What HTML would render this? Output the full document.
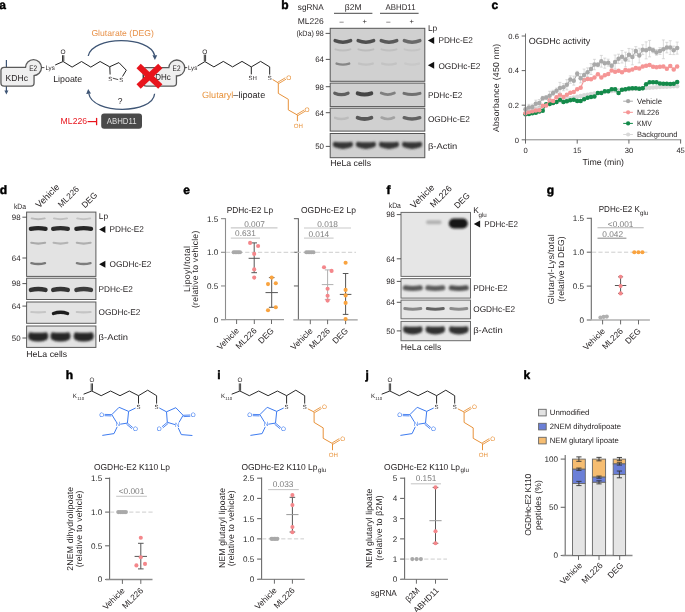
<!DOCTYPE html>
<html><head><meta charset="utf-8"><style>
html,body{margin:0;padding:0;background:#fff;}
body{width:685px;height:612px;overflow:hidden;}
svg{display:block;will-change:transform;}
text{font-family:"Liberation Sans", sans-serif;text-rendering:geometricPrecision;}
</style></head><body>
<svg width="685" height="612" viewBox="0 0 685 612" font-family="Liberation Sans, sans-serif" fill="#231f20">
<defs>
<filter id="bl" filterUnits="userSpaceOnUse" x="0" y="0" width="685" height="612"><feGaussianBlur stdDeviation="0.75"/></filter>
<filter id="bl3" filterUnits="userSpaceOnUse" x="0" y="0" width="685" height="612"><feGaussianBlur stdDeviation="0.95"/></filter>
<filter id="bl2" filterUnits="userSpaceOnUse" x="0" y="0" width="685" height="612"><feGaussianBlur stdDeviation="1.3"/></filter>
</defs>
<rect width="685" height="612" fill="#fff"/>
<text font-size="12" fill="#000" font-weight="bold" transform="translate(-0.80 9.00)" stroke="#000" stroke-width="0.45">a</text>
<text font-size="12" fill="#000" font-weight="bold" transform="translate(281.30 9.20)" stroke="#000" stroke-width="0.45">b</text>
<text font-size="12" fill="#000" font-weight="bold" transform="translate(491.60 8.90)" stroke="#000" stroke-width="0.45">c</text>
<text font-size="12" fill="#000" font-weight="bold" transform="translate(-0.30 194.00)" stroke="#000" stroke-width="0.45">d</text>
<text font-size="12" fill="#000" font-weight="bold" transform="translate(183.30 194.20)" stroke="#000" stroke-width="0.45">e</text>
<text font-size="12" fill="#000" font-weight="bold" transform="translate(386.40 193.90)" stroke="#000" stroke-width="0.45">f</text>
<text font-size="12" fill="#000" font-weight="bold" transform="translate(546.80 194.00)" stroke="#000" stroke-width="0.45">g</text>
<text font-size="12" fill="#000" font-weight="bold" transform="translate(65.80 379.20)" stroke="#000" stroke-width="0.45">h</text>
<text font-size="12" fill="#000" font-weight="bold" transform="translate(217.20 379.00)" stroke="#000" stroke-width="0.45">i</text>
<text font-size="12" fill="#000" font-weight="bold" transform="translate(365.60 379.00)" stroke="#000" stroke-width="0.45">j</text>
<text font-size="12" fill="#000" font-weight="bold" transform="translate(523.60 379.00)" stroke="#000" stroke-width="0.45">k</text>
<line x1="6.40" y1="60.00" x2="6.40" y2="68.00" stroke="#3e5575" stroke-width="1.2"/>
<line x1="6.40" y1="85.00" x2="6.40" y2="91.50" stroke="#3e5575" stroke-width="1.2"/>
<path d="M4.4,90.5 L8.4,90.5 L6.4,94.5 Z" fill="#3e5575"/>
<g stroke="#5a5a5a" stroke-width="2.6" fill="#efefef"><rect x="1.6" y="68.1" width="31.8" height="17.3" rx="2.5"/><circle cx="33.5" cy="67.6" r="7.35"/></g>
<g fill="#efefef"><rect x="1.6" y="68.1" width="31.8" height="17.3" rx="2.5"/><circle cx="33.5" cy="67.6" r="7.35"/></g>
<text font-size="8.6" transform="translate(5.60 80.60) scale(0.9974 1)">KDHc</text>
<text font-size="8" transform="translate(29.20 70.80) scale(0.8073 1)">E2</text>
<line x1="41.80" y1="67.60" x2="44.40" y2="67.60" stroke="#231f20" stroke-width="0.8"/>
<text font-size="6.4" transform="translate(45.40 69.90) scale(0.9669 1)">Lys</text>
<polyline points="55.20,65.00 63.10,61.50 72.10,67.10 81.50,61.50 90.80,67.10 100.10,61.50 109.60,66.80" fill="none" stroke="#222" stroke-width="1" stroke-linejoin="miter"/>
<line x1="62.50" y1="61.20" x2="62.50" y2="55.20" stroke="#222" stroke-width="0.9"/>
<line x1="63.80" y1="61.20" x2="63.80" y2="55.20" stroke="#222" stroke-width="0.9"/>
<text font-size="6.5" text-anchor="middle" transform="translate(63.10 54.30)">O</text>
<polyline points="109.60,66.80 118.90,62.60 126.30,70.20 122.50,76.50" fill="none" stroke="#222" stroke-width="1" stroke-linejoin="miter"/>
<line x1="109.80" y1="66.80" x2="110.10" y2="74.50" stroke="#222" stroke-width="1"/>
<line x1="112.80" y1="78.20" x2="118.20" y2="79.60" stroke="#222" stroke-width="0.8"/>
<text font-size="6.0" text-anchor="middle" transform="translate(110.20 80.60)">S</text>
<text font-size="6.0" text-anchor="middle" transform="translate(121.20 82.40)">S</text>
<text font-size="8.8" transform="translate(53.20 81.80) scale(1.0044 1)">Lipoate</text>
<path d="M88.2,56 C92,35.7 150,35.7 154.7,55.5" fill="none" stroke="#3e5575" stroke-width="1.3"/>
<path d="M152.4,55.2 L157.2,55.2 L154.9,60 Z" fill="#3e5575"/>
<path d="M154.6,93.8 C153,114.5 92,114.5 88.8,93.5" fill="none" stroke="#3e5575" stroke-width="1.3"/>
<path d="M86.2,94 L91,93.4 L88.2,89 Z" fill="#3e5575"/>
<text font-size="8.6" fill="#e8924a" transform="translate(91.40 35.70) scale(1.0044 1)">Glutarate (DEG)</text>
<text font-size="8.5" text-anchor="middle" transform="translate(120.20 104.20)">?</text>
<g stroke="#5a5a5a" stroke-width="2.6" fill="#efefef"><rect x="143.8" y="68.2" width="32.0" height="17.3" rx="2.5"/><circle cx="176.8" cy="68" r="7.35"/></g>
<g fill="#efefef"><rect x="143.8" y="68.2" width="32.0" height="17.3" rx="2.5"/><circle cx="176.8" cy="68" r="7.35"/></g>
<text font-size="8.6" text-anchor="end" transform="translate(170.80 80.30) scale(0.9302 1)">OGDHc</text>
<text font-size="8" transform="translate(172.60 71.00) scale(0.8073 1)">E2</text>
<g stroke="#e8141c" stroke-width="6.2" stroke-linecap="butt"><line x1="138.6" y1="66.1" x2="160.3" y2="86.4"/><line x1="160.3" y1="66.1" x2="138.6" y2="86.4"/></g>
<line x1="184.80" y1="67.60" x2="187.20" y2="67.60" stroke="#231f20" stroke-width="0.8"/>
<text font-size="6.4" transform="translate(187.90 69.80) scale(0.9669 1)">Lys</text>
<polyline points="197.50,66.00 204.90,61.60 213.90,66.90 223.30,61.40 232.60,66.90 242.00,61.40 251.30,66.90 260.60,61.40 269.70,66.90 269.70,74.60" fill="none" stroke="#222" stroke-width="1" stroke-linejoin="miter"/>
<line x1="204.30" y1="61.20" x2="204.30" y2="54.60" stroke="#222" stroke-width="0.9"/>
<line x1="205.60" y1="61.20" x2="205.60" y2="54.60" stroke="#222" stroke-width="0.9"/>
<text font-size="6.5" text-anchor="middle" transform="translate(204.90 53.60)">O</text>
<line x1="251.30" y1="66.90" x2="251.30" y2="74.40" stroke="#222" stroke-width="1"/>
<text font-size="6.0" text-anchor="middle" transform="translate(252.60 80.20)">SH</text>
<text font-size="6.0" text-anchor="middle" transform="translate(269.70 80.00)">S</text>
<polyline points="272.60,79.50 278.30,82.90 278.30,93.40 288.30,99.30 288.30,109.90 297.40,115.00 297.40,121.20" fill="none" stroke="#e8923a" stroke-width="1" stroke-linejoin="miter"/>
<line x1="278.60" y1="83.60" x2="286.00" y2="79.20" stroke="#e8923a" stroke-width="0.9"/>
<line x1="277.90" y1="82.20" x2="285.30" y2="77.80" stroke="#e8923a" stroke-width="0.9"/>
<text font-size="6.5" text-anchor="middle" fill="#e8923a" transform="translate(288.80 80.30)">O</text>
<line x1="297.70" y1="115.70" x2="305.00" y2="111.30" stroke="#e8923a" stroke-width="0.9"/>
<line x1="297.00" y1="114.30" x2="304.30" y2="109.90" stroke="#e8923a" stroke-width="0.9"/>
<text font-size="6.5" text-anchor="middle" fill="#e8923a" transform="translate(307.00 112.40)">O</text>
<text font-size="6.1" text-anchor="middle" fill="#e8923a" transform="translate(298.30 127.70)">OH</text>
<text x="202" y="98.4" font-size="9.1"><tspan fill="#e8923a">Glutaryl</tspan><tspan fill="#231f20">–lipoate</tspan></text>
<text font-size="8.6" fill="#e8141c" transform="translate(60.60 124.30) scale(1.0077 1)">ML226</text>
<line x1="87.60" y1="121.60" x2="96.60" y2="121.60" stroke="#e8141c" stroke-width="1.2"/>
<line x1="96.60" y1="117.90" x2="96.60" y2="125.20" stroke="#e8141c" stroke-width="1.3"/>
<rect x="101.2" y="113.6" width="40.8" height="15.1" rx="3" fill="#4a4a4a"/>
<text font-size="8.6" fill="#dedede" transform="translate(106.70 124.30) scale(0.9110 1)">ABHD11</text>
<text font-size="8.4" transform="translate(297.80 10.20) scale(0.9772 1)">sgRNA</text>
<text font-size="8.4" transform="translate(344.80 10.20) scale(1.0181 1)">β2M</text>
<text font-size="8.4" transform="translate(385.60 10.20) scale(0.9358 1)">ABHD11</text>
<line x1="334.00" y1="13.30" x2="372.40" y2="13.30" stroke="#333" stroke-width="0.9"/>
<line x1="380.00" y1="13.30" x2="418.60" y2="13.30" stroke="#333" stroke-width="0.9"/>
<text font-size="8.4" transform="translate(297.80 23.50) scale(1.0123 1)">ML226</text>
<text font-size="7.5" text-anchor="middle" transform="translate(341.70 24.30)">–</text>
<text font-size="7.5" text-anchor="middle" transform="translate(364.80 24.30)">+</text>
<text font-size="7.5" text-anchor="middle" transform="translate(388.30 24.30)">–</text>
<text font-size="7.5" text-anchor="middle" transform="translate(411.60 24.30)">+</text>
<rect x="330.20" y="28.30" width="94.60" height="53.00" fill="#d0d0d0" stroke="#555" stroke-width="1"/>
<path d="M335.10,40.60 Q342.90,43.80 350.70,40.60" stroke="rgb(80,80,80)" stroke-width="3.4" stroke-linecap="round" fill="none" filter="url(#bl)"/>
<path d="M335.40,49.40 Q342.90,51.80 350.40,49.40" stroke="rgb(190,190,190)" stroke-width="2.0" stroke-linecap="round" fill="none" filter="url(#bl)"/>
<path d="M336.60,63.60 Q342.90,65.60 349.20,63.60" stroke="rgb(135,135,135)" stroke-width="2.4" stroke-linecap="round" fill="none" filter="url(#bl)"/>
<path d="M358.10,40.60 Q365.90,43.80 373.70,40.60" stroke="rgb(80,80,80)" stroke-width="3.4" stroke-linecap="round" fill="none" filter="url(#bl)"/>
<path d="M358.40,49.40 Q365.90,51.80 373.40,49.40" stroke="rgb(188,188,188)" stroke-width="2.0" stroke-linecap="round" fill="none" filter="url(#bl)"/>
<path d="M359.10,63.60 Q365.90,65.60 372.70,63.60" stroke="rgb(194,194,194)" stroke-width="2.4" stroke-linecap="round" fill="none" filter="url(#bl)"/>
<path d="M381.20,40.60 Q389.00,43.80 396.80,40.60" stroke="rgb(90,90,90)" stroke-width="3.4" stroke-linecap="round" fill="none" filter="url(#bl)"/>
<path d="M381.50,49.40 Q389.00,51.80 396.50,49.40" stroke="rgb(192,192,192)" stroke-width="2.0" stroke-linecap="round" fill="none" filter="url(#bl)"/>
<path d="M382.20,63.60 Q389.00,65.60 395.80,63.60" stroke="rgb(195,195,195)" stroke-width="2.4" stroke-linecap="round" fill="none" filter="url(#bl)"/>
<path d="M404.30,40.60 Q412.10,43.80 419.90,40.60" stroke="rgb(105,105,105)" stroke-width="3.4" stroke-linecap="round" fill="none" filter="url(#bl)"/>
<path d="M404.60,49.40 Q412.10,51.80 419.60,49.40" stroke="rgb(196,196,196)" stroke-width="2.0" stroke-linecap="round" fill="none" filter="url(#bl)"/>
<path d="M405.30,63.60 Q412.10,65.60 418.90,63.60" stroke="rgb(200,200,200)" stroke-width="2.4" stroke-linecap="round" fill="none" filter="url(#bl)"/>
<rect x="330.20" y="83.10" width="94.60" height="23.50" fill="#d0d0d0" stroke="#555" stroke-width="1"/>
<path d="M334.75,93.20 Q341.40,96.00 348.05,93.20" stroke="rgb(95,95,95)" stroke-width="3.2" stroke-linecap="round" fill="none" filter="url(#bl)"/>
<path d="M357.70,93.40 Q364.50,95.80 371.30,93.40" stroke="rgb(68,68,68)" stroke-width="4.0" stroke-linecap="round" fill="none" filter="url(#bl)"/>
<path d="M381.20,93.00 Q387.80,96.20 394.40,93.00" stroke="rgb(128,128,128)" stroke-width="2.8" stroke-linecap="round" fill="none" filter="url(#bl)"/>
<path d="M404.00,93.40 Q412.00,95.80 420.00,93.40" stroke="rgb(112,112,112)" stroke-width="3.0" stroke-linecap="round" fill="none" filter="url(#bl)"/>
<rect x="330.20" y="108.20" width="94.60" height="22.90" fill="#d0d0d0" stroke="#555" stroke-width="1"/>
<path d="M335.10,117.80 Q341.40,120.20 347.70,117.80" stroke="rgb(188,188,188)" stroke-width="2.4" stroke-linecap="round" fill="none" filter="url(#bl)"/>
<path d="M357.60,117.70 Q364.50,120.30 371.40,117.70" stroke="rgb(88,88,88)" stroke-width="3.8" stroke-linecap="round" fill="none" filter="url(#bl)"/>
<path d="M381.60,117.50 Q387.80,120.50 394.00,117.50" stroke="rgb(162,162,162)" stroke-width="2.6" stroke-linecap="round" fill="none" filter="url(#bl)"/>
<path d="M404.20,117.70 Q412.00,120.30 419.80,117.70" stroke="rgb(100,100,100)" stroke-width="3.4" stroke-linecap="round" fill="none" filter="url(#bl)"/>
<rect x="330.20" y="133.50" width="94.60" height="24.20" fill="#d0d0d0" stroke="#555" stroke-width="1"/>
<path d="M334.15,141.70 Q342.90,142.70 351.65,141.70 Q354.35,144.40 351.65,147.10 Q342.90,150.70 334.15,147.10 Q331.45,144.40 334.15,141.70 Z" fill="rgb(52,52,52)" filter="url(#bl3)"/>
<path d="M357.15,141.70 Q365.90,142.70 374.65,141.70 Q377.35,144.40 374.65,147.10 Q365.90,150.70 357.15,147.10 Q354.45,144.40 357.15,141.70 Z" fill="rgb(52,52,52)" filter="url(#bl3)"/>
<path d="M380.25,141.70 Q389.00,142.70 397.75,141.70 Q400.45,144.40 397.75,147.10 Q389.00,150.70 380.25,147.10 Q377.55,144.40 380.25,141.70 Z" fill="rgb(52,52,52)" filter="url(#bl3)"/>
<path d="M403.35,141.70 Q412.10,142.70 420.85,141.70 Q423.55,144.40 420.85,147.10 Q412.10,150.70 403.35,147.10 Q400.65,144.40 403.35,141.70 Z" fill="rgb(52,52,52)" filter="url(#bl3)"/>
<text font-size="7.8" transform="translate(296.40 35.80) scale(0.9161 1)">(kDa) 98</text>
<line x1="325.60" y1="33.40" x2="330.00" y2="33.40" stroke="#444" stroke-width="0.9"/>
<line x1="325.80" y1="59.40" x2="330.00" y2="59.40" stroke="#444" stroke-width="0.9"/>
<text font-size="7.9" text-anchor="end" transform="translate(324.00 62.20)">64</text>
<line x1="325.80" y1="86.70" x2="330.00" y2="86.70" stroke="#444" stroke-width="0.9"/>
<text font-size="7.9" text-anchor="end" transform="translate(324.00 89.50)">98</text>
<line x1="325.80" y1="112.70" x2="330.00" y2="112.70" stroke="#444" stroke-width="0.9"/>
<text font-size="7.9" text-anchor="end" transform="translate(324.00 115.50)">64</text>
<line x1="325.80" y1="146.40" x2="330.00" y2="146.40" stroke="#444" stroke-width="0.9"/>
<text font-size="7.9" text-anchor="end" transform="translate(324.00 149.20)">50</text>
<text font-size="8.4" transform="translate(427.90 31.00)">Lp</text>
<path d="M427.90,40.40 L434.20,36.90 L434.20,43.90 Z" fill="#111"/>
<text font-size="8.4" transform="translate(438.40 43.40) scale(0.9855 1)">PDHc-E2</text>
<path d="M427.90,65.30 L434.20,61.80 L434.20,68.80 Z" fill="#111"/>
<text font-size="8.4" transform="translate(438.40 68.50) scale(0.9889 1)">OGDHc-E2</text>
<text font-size="8.4" transform="translate(427.90 97.80) scale(0.9855 1)">PDHc-E2</text>
<text font-size="8.4" transform="translate(427.90 122.00) scale(0.9889 1)">OGDHc-E2</text>
<text font-size="8.4" transform="translate(427.90 148.60) scale(1.1215 1)">β-Actin</text>
<text font-size="8.6" transform="translate(330.20 166.30) scale(1.0186 1)">HeLa cells</text>
<polyline points="525.50,113.85 528.95,112.21 532.39,110.67 535.84,109.20 539.29,107.82 542.74,106.51 546.18,105.27 549.63,104.10 553.08,102.99 556.52,101.94 559.97,100.95 563.42,100.01 566.86,99.12 570.31,98.28 573.76,97.48 577.21,96.73 580.65,96.02 584.10,95.35 587.55,94.71 590.99,94.11 594.44,93.54 597.89,93.00 601.33,92.49 604.78,92.01 608.23,91.56 611.67,91.12 615.12,90.72 618.57,90.33 622.02,89.97 625.46,89.62 628.91,89.29 632.36,88.98 635.80,88.69 639.25,88.42 642.70,88.15 646.14,87.91 649.59,87.67 653.04,87.45 656.49,87.24 659.93,87.04 663.38,86.86 666.83,86.68 670.27,86.51 673.72,86.35 677.17,86.20" fill="none" stroke="#d9d9d9" stroke-width="1.1" stroke-linejoin="miter"/>
<circle cx="525.50" cy="113.85" r="2.25" fill="#d9d9d9"/>
<circle cx="528.95" cy="112.21" r="2.25" fill="#d9d9d9"/>
<circle cx="532.39" cy="110.67" r="2.25" fill="#d9d9d9"/>
<circle cx="535.84" cy="109.20" r="2.25" fill="#d9d9d9"/>
<circle cx="539.29" cy="107.82" r="2.25" fill="#d9d9d9"/>
<circle cx="542.74" cy="106.51" r="2.25" fill="#d9d9d9"/>
<circle cx="546.18" cy="105.27" r="2.25" fill="#d9d9d9"/>
<circle cx="549.63" cy="104.10" r="2.25" fill="#d9d9d9"/>
<circle cx="553.08" cy="102.99" r="2.25" fill="#d9d9d9"/>
<circle cx="556.52" cy="101.94" r="2.25" fill="#d9d9d9"/>
<circle cx="559.97" cy="100.95" r="2.25" fill="#d9d9d9"/>
<circle cx="563.42" cy="100.01" r="2.25" fill="#d9d9d9"/>
<circle cx="566.86" cy="99.12" r="2.25" fill="#d9d9d9"/>
<circle cx="570.31" cy="98.28" r="2.25" fill="#d9d9d9"/>
<circle cx="573.76" cy="97.48" r="2.25" fill="#d9d9d9"/>
<circle cx="577.21" cy="96.73" r="2.25" fill="#d9d9d9"/>
<circle cx="580.65" cy="96.02" r="2.25" fill="#d9d9d9"/>
<circle cx="584.10" cy="95.35" r="2.25" fill="#d9d9d9"/>
<circle cx="587.55" cy="94.71" r="2.25" fill="#d9d9d9"/>
<circle cx="590.99" cy="94.11" r="2.25" fill="#d9d9d9"/>
<circle cx="594.44" cy="93.54" r="2.25" fill="#d9d9d9"/>
<circle cx="597.89" cy="93.00" r="2.25" fill="#d9d9d9"/>
<circle cx="601.33" cy="92.49" r="2.25" fill="#d9d9d9"/>
<circle cx="604.78" cy="92.01" r="2.25" fill="#d9d9d9"/>
<circle cx="608.23" cy="91.56" r="2.25" fill="#d9d9d9"/>
<circle cx="611.67" cy="91.12" r="2.25" fill="#d9d9d9"/>
<circle cx="615.12" cy="90.72" r="2.25" fill="#d9d9d9"/>
<circle cx="618.57" cy="90.33" r="2.25" fill="#d9d9d9"/>
<circle cx="622.02" cy="89.97" r="2.25" fill="#d9d9d9"/>
<circle cx="625.46" cy="89.62" r="2.25" fill="#d9d9d9"/>
<circle cx="628.91" cy="89.29" r="2.25" fill="#d9d9d9"/>
<circle cx="632.36" cy="88.98" r="2.25" fill="#d9d9d9"/>
<circle cx="635.80" cy="88.69" r="2.25" fill="#d9d9d9"/>
<circle cx="639.25" cy="88.42" r="2.25" fill="#d9d9d9"/>
<circle cx="642.70" cy="88.15" r="2.25" fill="#d9d9d9"/>
<circle cx="646.14" cy="87.91" r="2.25" fill="#d9d9d9"/>
<circle cx="649.59" cy="87.67" r="2.25" fill="#d9d9d9"/>
<circle cx="653.04" cy="87.45" r="2.25" fill="#d9d9d9"/>
<circle cx="656.49" cy="87.24" r="2.25" fill="#d9d9d9"/>
<circle cx="659.93" cy="87.04" r="2.25" fill="#d9d9d9"/>
<circle cx="663.38" cy="86.86" r="2.25" fill="#d9d9d9"/>
<circle cx="666.83" cy="86.68" r="2.25" fill="#d9d9d9"/>
<circle cx="670.27" cy="86.51" r="2.25" fill="#d9d9d9"/>
<circle cx="673.72" cy="86.35" r="2.25" fill="#d9d9d9"/>
<circle cx="677.17" cy="86.20" r="2.25" fill="#d9d9d9"/>
<line x1="525.50" y1="113.33" x2="525.50" y2="115.41" stroke="#5fb083" stroke-width="0.6"/>
<line x1="524.00" y1="113.33" x2="527.00" y2="113.33" stroke="#5fb083" stroke-width="0.6"/>
<line x1="524.00" y1="115.41" x2="527.00" y2="115.41" stroke="#5fb083" stroke-width="0.6"/>
<line x1="528.95" y1="112.99" x2="528.95" y2="115.06" stroke="#5fb083" stroke-width="0.6"/>
<line x1="527.45" y1="112.99" x2="530.45" y2="112.99" stroke="#5fb083" stroke-width="0.6"/>
<line x1="527.45" y1="115.06" x2="530.45" y2="115.06" stroke="#5fb083" stroke-width="0.6"/>
<line x1="532.39" y1="112.29" x2="532.39" y2="114.37" stroke="#5fb083" stroke-width="0.6"/>
<line x1="530.89" y1="112.29" x2="533.89" y2="112.29" stroke="#5fb083" stroke-width="0.6"/>
<line x1="530.89" y1="114.37" x2="533.89" y2="114.37" stroke="#5fb083" stroke-width="0.6"/>
<line x1="535.84" y1="111.77" x2="535.84" y2="113.85" stroke="#5fb083" stroke-width="0.6"/>
<line x1="534.34" y1="111.77" x2="537.34" y2="111.77" stroke="#5fb083" stroke-width="0.6"/>
<line x1="534.34" y1="113.85" x2="537.34" y2="113.85" stroke="#5fb083" stroke-width="0.6"/>
<line x1="539.29" y1="110.56" x2="539.29" y2="112.64" stroke="#5fb083" stroke-width="0.6"/>
<line x1="537.79" y1="110.56" x2="540.79" y2="110.56" stroke="#5fb083" stroke-width="0.6"/>
<line x1="537.79" y1="112.64" x2="540.79" y2="112.64" stroke="#5fb083" stroke-width="0.6"/>
<line x1="542.74" y1="109.70" x2="542.74" y2="111.77" stroke="#5fb083" stroke-width="0.6"/>
<line x1="541.24" y1="109.70" x2="544.24" y2="109.70" stroke="#5fb083" stroke-width="0.6"/>
<line x1="541.24" y1="111.77" x2="544.24" y2="111.77" stroke="#5fb083" stroke-width="0.6"/>
<line x1="546.18" y1="103.30" x2="546.18" y2="105.37" stroke="#5fb083" stroke-width="0.6"/>
<line x1="544.68" y1="103.30" x2="547.68" y2="103.30" stroke="#5fb083" stroke-width="0.6"/>
<line x1="544.68" y1="105.37" x2="547.68" y2="105.37" stroke="#5fb083" stroke-width="0.6"/>
<line x1="549.63" y1="102.95" x2="549.63" y2="105.03" stroke="#5fb083" stroke-width="0.6"/>
<line x1="548.13" y1="102.95" x2="551.13" y2="102.95" stroke="#5fb083" stroke-width="0.6"/>
<line x1="548.13" y1="105.03" x2="551.13" y2="105.03" stroke="#5fb083" stroke-width="0.6"/>
<line x1="553.08" y1="102.09" x2="553.08" y2="104.16" stroke="#5fb083" stroke-width="0.6"/>
<line x1="551.58" y1="102.09" x2="554.58" y2="102.09" stroke="#5fb083" stroke-width="0.6"/>
<line x1="551.58" y1="104.16" x2="554.58" y2="104.16" stroke="#5fb083" stroke-width="0.6"/>
<line x1="556.52" y1="101.05" x2="556.52" y2="103.12" stroke="#5fb083" stroke-width="0.6"/>
<line x1="555.02" y1="101.05" x2="558.02" y2="101.05" stroke="#5fb083" stroke-width="0.6"/>
<line x1="555.02" y1="103.12" x2="558.02" y2="103.12" stroke="#5fb083" stroke-width="0.6"/>
<line x1="559.97" y1="98.80" x2="559.97" y2="100.88" stroke="#5fb083" stroke-width="0.6"/>
<line x1="558.47" y1="98.80" x2="561.47" y2="98.80" stroke="#5fb083" stroke-width="0.6"/>
<line x1="558.47" y1="100.88" x2="561.47" y2="100.88" stroke="#5fb083" stroke-width="0.6"/>
<line x1="563.42" y1="100.88" x2="563.42" y2="102.95" stroke="#5fb083" stroke-width="0.6"/>
<line x1="561.92" y1="100.88" x2="564.92" y2="100.88" stroke="#5fb083" stroke-width="0.6"/>
<line x1="561.92" y1="102.95" x2="564.92" y2="102.95" stroke="#5fb083" stroke-width="0.6"/>
<line x1="566.86" y1="100.18" x2="566.86" y2="102.26" stroke="#5fb083" stroke-width="0.6"/>
<line x1="565.36" y1="100.18" x2="568.36" y2="100.18" stroke="#5fb083" stroke-width="0.6"/>
<line x1="565.36" y1="102.26" x2="568.36" y2="102.26" stroke="#5fb083" stroke-width="0.6"/>
<line x1="570.31" y1="99.15" x2="570.31" y2="101.22" stroke="#5fb083" stroke-width="0.6"/>
<line x1="568.81" y1="99.15" x2="571.81" y2="99.15" stroke="#5fb083" stroke-width="0.6"/>
<line x1="568.81" y1="101.22" x2="571.81" y2="101.22" stroke="#5fb083" stroke-width="0.6"/>
<line x1="573.76" y1="98.80" x2="573.76" y2="100.88" stroke="#5fb083" stroke-width="0.6"/>
<line x1="572.26" y1="98.80" x2="575.26" y2="98.80" stroke="#5fb083" stroke-width="0.6"/>
<line x1="572.26" y1="100.88" x2="575.26" y2="100.88" stroke="#5fb083" stroke-width="0.6"/>
<line x1="577.21" y1="99.84" x2="577.21" y2="101.91" stroke="#5fb083" stroke-width="0.6"/>
<line x1="575.71" y1="99.84" x2="578.71" y2="99.84" stroke="#5fb083" stroke-width="0.6"/>
<line x1="575.71" y1="101.91" x2="578.71" y2="101.91" stroke="#5fb083" stroke-width="0.6"/>
<line x1="580.65" y1="100.01" x2="580.65" y2="102.09" stroke="#5fb083" stroke-width="0.6"/>
<line x1="579.15" y1="100.01" x2="582.15" y2="100.01" stroke="#5fb083" stroke-width="0.6"/>
<line x1="579.15" y1="102.09" x2="582.15" y2="102.09" stroke="#5fb083" stroke-width="0.6"/>
<line x1="584.10" y1="98.11" x2="584.10" y2="100.18" stroke="#5fb083" stroke-width="0.6"/>
<line x1="582.60" y1="98.11" x2="585.60" y2="98.11" stroke="#5fb083" stroke-width="0.6"/>
<line x1="582.60" y1="100.18" x2="585.60" y2="100.18" stroke="#5fb083" stroke-width="0.6"/>
<line x1="587.55" y1="96.72" x2="587.55" y2="98.80" stroke="#5fb083" stroke-width="0.6"/>
<line x1="586.05" y1="96.72" x2="589.05" y2="96.72" stroke="#5fb083" stroke-width="0.6"/>
<line x1="586.05" y1="98.80" x2="589.05" y2="98.80" stroke="#5fb083" stroke-width="0.6"/>
<line x1="590.99" y1="96.03" x2="590.99" y2="98.11" stroke="#5fb083" stroke-width="0.6"/>
<line x1="589.49" y1="96.03" x2="592.49" y2="96.03" stroke="#5fb083" stroke-width="0.6"/>
<line x1="589.49" y1="98.11" x2="592.49" y2="98.11" stroke="#5fb083" stroke-width="0.6"/>
<line x1="594.44" y1="95.51" x2="594.44" y2="97.59" stroke="#5fb083" stroke-width="0.6"/>
<line x1="592.94" y1="95.51" x2="595.94" y2="95.51" stroke="#5fb083" stroke-width="0.6"/>
<line x1="592.94" y1="97.59" x2="595.94" y2="97.59" stroke="#5fb083" stroke-width="0.6"/>
<line x1="597.89" y1="92.05" x2="597.89" y2="94.13" stroke="#5fb083" stroke-width="0.6"/>
<line x1="596.39" y1="92.05" x2="599.39" y2="92.05" stroke="#5fb083" stroke-width="0.6"/>
<line x1="596.39" y1="94.13" x2="599.39" y2="94.13" stroke="#5fb083" stroke-width="0.6"/>
<line x1="601.33" y1="92.05" x2="601.33" y2="94.13" stroke="#5fb083" stroke-width="0.6"/>
<line x1="599.83" y1="92.05" x2="602.83" y2="92.05" stroke="#5fb083" stroke-width="0.6"/>
<line x1="599.83" y1="94.13" x2="602.83" y2="94.13" stroke="#5fb083" stroke-width="0.6"/>
<line x1="604.78" y1="90.32" x2="604.78" y2="92.40" stroke="#5fb083" stroke-width="0.6"/>
<line x1="603.28" y1="90.32" x2="606.28" y2="90.32" stroke="#5fb083" stroke-width="0.6"/>
<line x1="603.28" y1="92.40" x2="606.28" y2="92.40" stroke="#5fb083" stroke-width="0.6"/>
<line x1="608.23" y1="90.15" x2="608.23" y2="92.23" stroke="#5fb083" stroke-width="0.6"/>
<line x1="606.73" y1="90.15" x2="609.73" y2="90.15" stroke="#5fb083" stroke-width="0.6"/>
<line x1="606.73" y1="92.23" x2="609.73" y2="92.23" stroke="#5fb083" stroke-width="0.6"/>
<line x1="611.67" y1="88.25" x2="611.67" y2="90.32" stroke="#5fb083" stroke-width="0.6"/>
<line x1="610.17" y1="88.25" x2="613.17" y2="88.25" stroke="#5fb083" stroke-width="0.6"/>
<line x1="610.17" y1="90.32" x2="613.17" y2="90.32" stroke="#5fb083" stroke-width="0.6"/>
<line x1="615.12" y1="88.25" x2="615.12" y2="90.32" stroke="#5fb083" stroke-width="0.6"/>
<line x1="613.62" y1="88.25" x2="616.62" y2="88.25" stroke="#5fb083" stroke-width="0.6"/>
<line x1="613.62" y1="90.32" x2="616.62" y2="90.32" stroke="#5fb083" stroke-width="0.6"/>
<line x1="618.57" y1="92.05" x2="618.57" y2="94.13" stroke="#5fb083" stroke-width="0.6"/>
<line x1="617.07" y1="92.05" x2="620.07" y2="92.05" stroke="#5fb083" stroke-width="0.6"/>
<line x1="617.07" y1="94.13" x2="620.07" y2="94.13" stroke="#5fb083" stroke-width="0.6"/>
<line x1="622.02" y1="88.59" x2="622.02" y2="90.67" stroke="#5fb083" stroke-width="0.6"/>
<line x1="620.52" y1="88.59" x2="623.52" y2="88.59" stroke="#5fb083" stroke-width="0.6"/>
<line x1="620.52" y1="90.67" x2="623.52" y2="90.67" stroke="#5fb083" stroke-width="0.6"/>
<line x1="625.46" y1="88.25" x2="625.46" y2="90.32" stroke="#5fb083" stroke-width="0.6"/>
<line x1="623.96" y1="88.25" x2="626.96" y2="88.25" stroke="#5fb083" stroke-width="0.6"/>
<line x1="623.96" y1="90.32" x2="626.96" y2="90.32" stroke="#5fb083" stroke-width="0.6"/>
<line x1="628.91" y1="87.55" x2="628.91" y2="89.63" stroke="#5fb083" stroke-width="0.6"/>
<line x1="627.41" y1="87.55" x2="630.41" y2="87.55" stroke="#5fb083" stroke-width="0.6"/>
<line x1="627.41" y1="89.63" x2="630.41" y2="89.63" stroke="#5fb083" stroke-width="0.6"/>
<line x1="632.36" y1="87.21" x2="632.36" y2="89.28" stroke="#5fb083" stroke-width="0.6"/>
<line x1="630.86" y1="87.21" x2="633.86" y2="87.21" stroke="#5fb083" stroke-width="0.6"/>
<line x1="630.86" y1="89.28" x2="633.86" y2="89.28" stroke="#5fb083" stroke-width="0.6"/>
<line x1="635.80" y1="87.21" x2="635.80" y2="89.28" stroke="#5fb083" stroke-width="0.6"/>
<line x1="634.30" y1="87.21" x2="637.30" y2="87.21" stroke="#5fb083" stroke-width="0.6"/>
<line x1="634.30" y1="89.28" x2="637.30" y2="89.28" stroke="#5fb083" stroke-width="0.6"/>
<line x1="639.25" y1="87.73" x2="639.25" y2="89.80" stroke="#5fb083" stroke-width="0.6"/>
<line x1="637.75" y1="87.73" x2="640.75" y2="87.73" stroke="#5fb083" stroke-width="0.6"/>
<line x1="637.75" y1="89.80" x2="640.75" y2="89.80" stroke="#5fb083" stroke-width="0.6"/>
<line x1="642.70" y1="87.21" x2="642.70" y2="89.28" stroke="#5fb083" stroke-width="0.6"/>
<line x1="641.20" y1="87.21" x2="644.20" y2="87.21" stroke="#5fb083" stroke-width="0.6"/>
<line x1="641.20" y1="89.28" x2="644.20" y2="89.28" stroke="#5fb083" stroke-width="0.6"/>
<line x1="646.14" y1="83.23" x2="646.14" y2="85.31" stroke="#5fb083" stroke-width="0.6"/>
<line x1="644.64" y1="83.23" x2="647.64" y2="83.23" stroke="#5fb083" stroke-width="0.6"/>
<line x1="644.64" y1="85.31" x2="647.64" y2="85.31" stroke="#5fb083" stroke-width="0.6"/>
<line x1="649.59" y1="81.33" x2="649.59" y2="83.40" stroke="#5fb083" stroke-width="0.6"/>
<line x1="648.09" y1="81.33" x2="651.09" y2="81.33" stroke="#5fb083" stroke-width="0.6"/>
<line x1="648.09" y1="83.40" x2="651.09" y2="83.40" stroke="#5fb083" stroke-width="0.6"/>
<line x1="653.04" y1="81.33" x2="653.04" y2="83.40" stroke="#5fb083" stroke-width="0.6"/>
<line x1="651.54" y1="81.33" x2="654.54" y2="81.33" stroke="#5fb083" stroke-width="0.6"/>
<line x1="651.54" y1="83.40" x2="654.54" y2="83.40" stroke="#5fb083" stroke-width="0.6"/>
<line x1="656.49" y1="81.33" x2="656.49" y2="83.40" stroke="#5fb083" stroke-width="0.6"/>
<line x1="654.99" y1="81.33" x2="657.99" y2="81.33" stroke="#5fb083" stroke-width="0.6"/>
<line x1="654.99" y1="83.40" x2="657.99" y2="83.40" stroke="#5fb083" stroke-width="0.6"/>
<line x1="659.93" y1="82.36" x2="659.93" y2="84.44" stroke="#5fb083" stroke-width="0.6"/>
<line x1="658.43" y1="82.36" x2="661.43" y2="82.36" stroke="#5fb083" stroke-width="0.6"/>
<line x1="658.43" y1="84.44" x2="661.43" y2="84.44" stroke="#5fb083" stroke-width="0.6"/>
<line x1="663.38" y1="82.71" x2="663.38" y2="84.79" stroke="#5fb083" stroke-width="0.6"/>
<line x1="661.88" y1="82.71" x2="664.88" y2="82.71" stroke="#5fb083" stroke-width="0.6"/>
<line x1="661.88" y1="84.79" x2="664.88" y2="84.79" stroke="#5fb083" stroke-width="0.6"/>
<line x1="666.83" y1="82.71" x2="666.83" y2="84.79" stroke="#5fb083" stroke-width="0.6"/>
<line x1="665.33" y1="82.71" x2="668.33" y2="82.71" stroke="#5fb083" stroke-width="0.6"/>
<line x1="665.33" y1="84.79" x2="668.33" y2="84.79" stroke="#5fb083" stroke-width="0.6"/>
<line x1="670.27" y1="83.06" x2="670.27" y2="85.13" stroke="#5fb083" stroke-width="0.6"/>
<line x1="668.77" y1="83.06" x2="671.77" y2="83.06" stroke="#5fb083" stroke-width="0.6"/>
<line x1="668.77" y1="85.13" x2="671.77" y2="85.13" stroke="#5fb083" stroke-width="0.6"/>
<line x1="673.72" y1="82.71" x2="673.72" y2="84.79" stroke="#5fb083" stroke-width="0.6"/>
<line x1="672.22" y1="82.71" x2="675.22" y2="82.71" stroke="#5fb083" stroke-width="0.6"/>
<line x1="672.22" y1="84.79" x2="675.22" y2="84.79" stroke="#5fb083" stroke-width="0.6"/>
<line x1="677.17" y1="80.98" x2="677.17" y2="83.06" stroke="#5fb083" stroke-width="0.6"/>
<line x1="675.67" y1="80.98" x2="678.67" y2="80.98" stroke="#5fb083" stroke-width="0.6"/>
<line x1="675.67" y1="83.06" x2="678.67" y2="83.06" stroke="#5fb083" stroke-width="0.6"/>
<polyline points="525.50,114.37 528.95,114.02 532.39,113.33 535.84,112.81 539.29,111.60 542.74,110.74 546.18,104.34 549.63,103.99 553.08,103.12 556.52,102.09 559.97,99.84 563.42,101.91 566.86,101.22 570.31,100.18 573.76,99.84 577.21,100.88 580.65,101.05 584.10,99.15 587.55,97.76 590.99,97.07 594.44,96.55 597.89,93.09 601.33,93.09 604.78,91.36 608.23,91.19 611.67,89.28 615.12,89.28 618.57,93.09 622.02,89.63 625.46,89.28 628.91,88.59 632.36,88.25 635.80,88.25 639.25,88.77 642.70,88.25 646.14,84.27 649.59,82.36 653.04,82.36 656.49,82.36 659.93,83.40 663.38,83.75 666.83,83.75 670.27,84.09 673.72,83.75 677.17,82.02" fill="none" stroke="#148a4a" stroke-width="1.1" stroke-linejoin="miter"/>
<circle cx="525.50" cy="114.37" r="2.25" fill="#148a4a"/>
<circle cx="528.95" cy="114.02" r="2.25" fill="#148a4a"/>
<circle cx="532.39" cy="113.33" r="2.25" fill="#148a4a"/>
<circle cx="535.84" cy="112.81" r="2.25" fill="#148a4a"/>
<circle cx="539.29" cy="111.60" r="2.25" fill="#148a4a"/>
<circle cx="542.74" cy="110.74" r="2.25" fill="#148a4a"/>
<circle cx="546.18" cy="104.34" r="2.25" fill="#148a4a"/>
<circle cx="549.63" cy="103.99" r="2.25" fill="#148a4a"/>
<circle cx="553.08" cy="103.12" r="2.25" fill="#148a4a"/>
<circle cx="556.52" cy="102.09" r="2.25" fill="#148a4a"/>
<circle cx="559.97" cy="99.84" r="2.25" fill="#148a4a"/>
<circle cx="563.42" cy="101.91" r="2.25" fill="#148a4a"/>
<circle cx="566.86" cy="101.22" r="2.25" fill="#148a4a"/>
<circle cx="570.31" cy="100.18" r="2.25" fill="#148a4a"/>
<circle cx="573.76" cy="99.84" r="2.25" fill="#148a4a"/>
<circle cx="577.21" cy="100.88" r="2.25" fill="#148a4a"/>
<circle cx="580.65" cy="101.05" r="2.25" fill="#148a4a"/>
<circle cx="584.10" cy="99.15" r="2.25" fill="#148a4a"/>
<circle cx="587.55" cy="97.76" r="2.25" fill="#148a4a"/>
<circle cx="590.99" cy="97.07" r="2.25" fill="#148a4a"/>
<circle cx="594.44" cy="96.55" r="2.25" fill="#148a4a"/>
<circle cx="597.89" cy="93.09" r="2.25" fill="#148a4a"/>
<circle cx="601.33" cy="93.09" r="2.25" fill="#148a4a"/>
<circle cx="604.78" cy="91.36" r="2.25" fill="#148a4a"/>
<circle cx="608.23" cy="91.19" r="2.25" fill="#148a4a"/>
<circle cx="611.67" cy="89.28" r="2.25" fill="#148a4a"/>
<circle cx="615.12" cy="89.28" r="2.25" fill="#148a4a"/>
<circle cx="618.57" cy="93.09" r="2.25" fill="#148a4a"/>
<circle cx="622.02" cy="89.63" r="2.25" fill="#148a4a"/>
<circle cx="625.46" cy="89.28" r="2.25" fill="#148a4a"/>
<circle cx="628.91" cy="88.59" r="2.25" fill="#148a4a"/>
<circle cx="632.36" cy="88.25" r="2.25" fill="#148a4a"/>
<circle cx="635.80" cy="88.25" r="2.25" fill="#148a4a"/>
<circle cx="639.25" cy="88.77" r="2.25" fill="#148a4a"/>
<circle cx="642.70" cy="88.25" r="2.25" fill="#148a4a"/>
<circle cx="646.14" cy="84.27" r="2.25" fill="#148a4a"/>
<circle cx="649.59" cy="82.36" r="2.25" fill="#148a4a"/>
<circle cx="653.04" cy="82.36" r="2.25" fill="#148a4a"/>
<circle cx="656.49" cy="82.36" r="2.25" fill="#148a4a"/>
<circle cx="659.93" cy="83.40" r="2.25" fill="#148a4a"/>
<circle cx="663.38" cy="83.75" r="2.25" fill="#148a4a"/>
<circle cx="666.83" cy="83.75" r="2.25" fill="#148a4a"/>
<circle cx="670.27" cy="84.09" r="2.25" fill="#148a4a"/>
<circle cx="673.72" cy="83.75" r="2.25" fill="#148a4a"/>
<circle cx="677.17" cy="82.02" r="2.25" fill="#148a4a"/>
<line x1="525.50" y1="112.12" x2="525.50" y2="114.20" stroke="#f7b0b0" stroke-width="0.6"/>
<line x1="524.00" y1="112.12" x2="527.00" y2="112.12" stroke="#f7b0b0" stroke-width="0.6"/>
<line x1="524.00" y1="114.20" x2="527.00" y2="114.20" stroke="#f7b0b0" stroke-width="0.6"/>
<line x1="528.95" y1="110.91" x2="528.95" y2="112.98" stroke="#f7b0b0" stroke-width="0.6"/>
<line x1="527.45" y1="110.91" x2="530.45" y2="110.91" stroke="#f7b0b0" stroke-width="0.6"/>
<line x1="527.45" y1="112.98" x2="530.45" y2="112.98" stroke="#f7b0b0" stroke-width="0.6"/>
<line x1="532.39" y1="110.22" x2="532.39" y2="112.29" stroke="#f7b0b0" stroke-width="0.6"/>
<line x1="530.89" y1="110.22" x2="533.89" y2="110.22" stroke="#f7b0b0" stroke-width="0.6"/>
<line x1="530.89" y1="112.29" x2="533.89" y2="112.29" stroke="#f7b0b0" stroke-width="0.6"/>
<line x1="535.84" y1="109.53" x2="535.84" y2="111.60" stroke="#f7b0b0" stroke-width="0.6"/>
<line x1="534.34" y1="109.53" x2="537.34" y2="109.53" stroke="#f7b0b0" stroke-width="0.6"/>
<line x1="534.34" y1="111.60" x2="537.34" y2="111.60" stroke="#f7b0b0" stroke-width="0.6"/>
<line x1="539.29" y1="109.18" x2="539.29" y2="111.26" stroke="#f7b0b0" stroke-width="0.6"/>
<line x1="537.79" y1="109.18" x2="540.79" y2="109.18" stroke="#f7b0b0" stroke-width="0.6"/>
<line x1="537.79" y1="111.26" x2="540.79" y2="111.26" stroke="#f7b0b0" stroke-width="0.6"/>
<line x1="542.74" y1="104.68" x2="542.74" y2="106.76" stroke="#f7b0b0" stroke-width="0.6"/>
<line x1="541.24" y1="104.68" x2="544.24" y2="104.68" stroke="#f7b0b0" stroke-width="0.6"/>
<line x1="541.24" y1="106.76" x2="544.24" y2="106.76" stroke="#f7b0b0" stroke-width="0.6"/>
<line x1="546.18" y1="104.51" x2="546.18" y2="106.58" stroke="#f7b0b0" stroke-width="0.6"/>
<line x1="544.68" y1="104.51" x2="547.68" y2="104.51" stroke="#f7b0b0" stroke-width="0.6"/>
<line x1="544.68" y1="106.58" x2="547.68" y2="106.58" stroke="#f7b0b0" stroke-width="0.6"/>
<line x1="549.63" y1="99.15" x2="549.63" y2="101.22" stroke="#f7b0b0" stroke-width="0.6"/>
<line x1="548.13" y1="99.15" x2="551.13" y2="99.15" stroke="#f7b0b0" stroke-width="0.6"/>
<line x1="548.13" y1="101.22" x2="551.13" y2="101.22" stroke="#f7b0b0" stroke-width="0.6"/>
<line x1="553.08" y1="99.84" x2="553.08" y2="101.91" stroke="#f7b0b0" stroke-width="0.6"/>
<line x1="551.58" y1="99.84" x2="554.58" y2="99.84" stroke="#f7b0b0" stroke-width="0.6"/>
<line x1="551.58" y1="101.91" x2="554.58" y2="101.91" stroke="#f7b0b0" stroke-width="0.6"/>
<line x1="556.52" y1="96.20" x2="556.52" y2="98.28" stroke="#f7b0b0" stroke-width="0.6"/>
<line x1="555.02" y1="96.20" x2="558.02" y2="96.20" stroke="#f7b0b0" stroke-width="0.6"/>
<line x1="555.02" y1="98.28" x2="558.02" y2="98.28" stroke="#f7b0b0" stroke-width="0.6"/>
<line x1="559.97" y1="93.61" x2="559.97" y2="95.69" stroke="#f7b0b0" stroke-width="0.6"/>
<line x1="558.47" y1="93.61" x2="561.47" y2="93.61" stroke="#f7b0b0" stroke-width="0.6"/>
<line x1="558.47" y1="95.69" x2="561.47" y2="95.69" stroke="#f7b0b0" stroke-width="0.6"/>
<line x1="563.42" y1="95.86" x2="563.42" y2="97.93" stroke="#f7b0b0" stroke-width="0.6"/>
<line x1="561.92" y1="95.86" x2="564.92" y2="95.86" stroke="#f7b0b0" stroke-width="0.6"/>
<line x1="561.92" y1="97.93" x2="564.92" y2="97.93" stroke="#f7b0b0" stroke-width="0.6"/>
<line x1="566.86" y1="93.78" x2="566.86" y2="95.86" stroke="#f7b0b0" stroke-width="0.6"/>
<line x1="565.36" y1="93.78" x2="568.36" y2="93.78" stroke="#f7b0b0" stroke-width="0.6"/>
<line x1="565.36" y1="95.86" x2="568.36" y2="95.86" stroke="#f7b0b0" stroke-width="0.6"/>
<line x1="570.31" y1="91.71" x2="570.31" y2="93.78" stroke="#f7b0b0" stroke-width="0.6"/>
<line x1="568.81" y1="91.71" x2="571.81" y2="91.71" stroke="#f7b0b0" stroke-width="0.6"/>
<line x1="568.81" y1="93.78" x2="571.81" y2="93.78" stroke="#f7b0b0" stroke-width="0.6"/>
<line x1="573.76" y1="91.01" x2="573.76" y2="93.09" stroke="#f7b0b0" stroke-width="0.6"/>
<line x1="572.26" y1="91.01" x2="575.26" y2="91.01" stroke="#f7b0b0" stroke-width="0.6"/>
<line x1="572.26" y1="93.09" x2="575.26" y2="93.09" stroke="#f7b0b0" stroke-width="0.6"/>
<line x1="577.21" y1="88.25" x2="577.21" y2="90.32" stroke="#f7b0b0" stroke-width="0.6"/>
<line x1="575.71" y1="88.25" x2="578.71" y2="88.25" stroke="#f7b0b0" stroke-width="0.6"/>
<line x1="575.71" y1="90.32" x2="578.71" y2="90.32" stroke="#f7b0b0" stroke-width="0.6"/>
<line x1="580.65" y1="86.69" x2="580.65" y2="88.77" stroke="#f7b0b0" stroke-width="0.6"/>
<line x1="579.15" y1="86.69" x2="582.15" y2="86.69" stroke="#f7b0b0" stroke-width="0.6"/>
<line x1="579.15" y1="88.77" x2="582.15" y2="88.77" stroke="#f7b0b0" stroke-width="0.6"/>
<line x1="584.10" y1="78.90" x2="584.10" y2="80.98" stroke="#f7b0b0" stroke-width="0.6"/>
<line x1="582.60" y1="78.90" x2="585.60" y2="78.90" stroke="#f7b0b0" stroke-width="0.6"/>
<line x1="582.60" y1="80.98" x2="585.60" y2="80.98" stroke="#f7b0b0" stroke-width="0.6"/>
<line x1="587.55" y1="77.87" x2="587.55" y2="79.94" stroke="#f7b0b0" stroke-width="0.6"/>
<line x1="586.05" y1="77.87" x2="589.05" y2="77.87" stroke="#f7b0b0" stroke-width="0.6"/>
<line x1="586.05" y1="79.94" x2="589.05" y2="79.94" stroke="#f7b0b0" stroke-width="0.6"/>
<line x1="590.99" y1="78.21" x2="590.99" y2="80.29" stroke="#f7b0b0" stroke-width="0.6"/>
<line x1="589.49" y1="78.21" x2="592.49" y2="78.21" stroke="#f7b0b0" stroke-width="0.6"/>
<line x1="589.49" y1="80.29" x2="592.49" y2="80.29" stroke="#f7b0b0" stroke-width="0.6"/>
<line x1="594.44" y1="76.48" x2="594.44" y2="78.56" stroke="#f7b0b0" stroke-width="0.6"/>
<line x1="592.94" y1="76.48" x2="595.94" y2="76.48" stroke="#f7b0b0" stroke-width="0.6"/>
<line x1="592.94" y1="78.56" x2="595.94" y2="78.56" stroke="#f7b0b0" stroke-width="0.6"/>
<line x1="597.89" y1="73.20" x2="597.89" y2="75.27" stroke="#f7b0b0" stroke-width="0.6"/>
<line x1="596.39" y1="73.20" x2="599.39" y2="73.20" stroke="#f7b0b0" stroke-width="0.6"/>
<line x1="596.39" y1="75.27" x2="599.39" y2="75.27" stroke="#f7b0b0" stroke-width="0.6"/>
<line x1="601.33" y1="76.48" x2="601.33" y2="78.56" stroke="#f7b0b0" stroke-width="0.6"/>
<line x1="599.83" y1="76.48" x2="602.83" y2="76.48" stroke="#f7b0b0" stroke-width="0.6"/>
<line x1="599.83" y1="78.56" x2="602.83" y2="78.56" stroke="#f7b0b0" stroke-width="0.6"/>
<line x1="604.78" y1="74.23" x2="604.78" y2="76.31" stroke="#f7b0b0" stroke-width="0.6"/>
<line x1="603.28" y1="74.23" x2="606.28" y2="74.23" stroke="#f7b0b0" stroke-width="0.6"/>
<line x1="603.28" y1="76.31" x2="606.28" y2="76.31" stroke="#f7b0b0" stroke-width="0.6"/>
<line x1="608.23" y1="73.02" x2="608.23" y2="75.10" stroke="#f7b0b0" stroke-width="0.6"/>
<line x1="606.73" y1="73.02" x2="609.73" y2="73.02" stroke="#f7b0b0" stroke-width="0.6"/>
<line x1="606.73" y1="75.10" x2="609.73" y2="75.10" stroke="#f7b0b0" stroke-width="0.6"/>
<line x1="611.67" y1="69.39" x2="611.67" y2="71.47" stroke="#f7b0b0" stroke-width="0.6"/>
<line x1="610.17" y1="69.39" x2="613.17" y2="69.39" stroke="#f7b0b0" stroke-width="0.6"/>
<line x1="610.17" y1="71.47" x2="613.17" y2="71.47" stroke="#f7b0b0" stroke-width="0.6"/>
<line x1="615.12" y1="70.77" x2="615.12" y2="72.85" stroke="#f7b0b0" stroke-width="0.6"/>
<line x1="613.62" y1="70.77" x2="616.62" y2="70.77" stroke="#f7b0b0" stroke-width="0.6"/>
<line x1="613.62" y1="72.85" x2="616.62" y2="72.85" stroke="#f7b0b0" stroke-width="0.6"/>
<line x1="618.57" y1="69.74" x2="618.57" y2="71.81" stroke="#f7b0b0" stroke-width="0.6"/>
<line x1="617.07" y1="69.74" x2="620.07" y2="69.74" stroke="#f7b0b0" stroke-width="0.6"/>
<line x1="617.07" y1="71.81" x2="620.07" y2="71.81" stroke="#f7b0b0" stroke-width="0.6"/>
<line x1="622.02" y1="71.29" x2="622.02" y2="73.37" stroke="#f7b0b0" stroke-width="0.6"/>
<line x1="620.52" y1="71.29" x2="623.52" y2="71.29" stroke="#f7b0b0" stroke-width="0.6"/>
<line x1="620.52" y1="73.37" x2="623.52" y2="73.37" stroke="#f7b0b0" stroke-width="0.6"/>
<line x1="625.46" y1="69.04" x2="625.46" y2="71.12" stroke="#f7b0b0" stroke-width="0.6"/>
<line x1="623.96" y1="69.04" x2="626.96" y2="69.04" stroke="#f7b0b0" stroke-width="0.6"/>
<line x1="623.96" y1="71.12" x2="626.96" y2="71.12" stroke="#f7b0b0" stroke-width="0.6"/>
<line x1="628.91" y1="69.56" x2="628.91" y2="71.64" stroke="#f7b0b0" stroke-width="0.6"/>
<line x1="627.41" y1="69.56" x2="630.41" y2="69.56" stroke="#f7b0b0" stroke-width="0.6"/>
<line x1="627.41" y1="71.64" x2="630.41" y2="71.64" stroke="#f7b0b0" stroke-width="0.6"/>
<line x1="632.36" y1="68.52" x2="632.36" y2="70.60" stroke="#f7b0b0" stroke-width="0.6"/>
<line x1="630.86" y1="68.52" x2="633.86" y2="68.52" stroke="#f7b0b0" stroke-width="0.6"/>
<line x1="630.86" y1="70.60" x2="633.86" y2="70.60" stroke="#f7b0b0" stroke-width="0.6"/>
<line x1="635.80" y1="66.97" x2="635.80" y2="69.04" stroke="#f7b0b0" stroke-width="0.6"/>
<line x1="634.30" y1="66.97" x2="637.30" y2="66.97" stroke="#f7b0b0" stroke-width="0.6"/>
<line x1="634.30" y1="69.04" x2="637.30" y2="69.04" stroke="#f7b0b0" stroke-width="0.6"/>
<line x1="639.25" y1="67.49" x2="639.25" y2="69.56" stroke="#f7b0b0" stroke-width="0.6"/>
<line x1="637.75" y1="67.49" x2="640.75" y2="67.49" stroke="#f7b0b0" stroke-width="0.6"/>
<line x1="637.75" y1="69.56" x2="640.75" y2="69.56" stroke="#f7b0b0" stroke-width="0.6"/>
<line x1="642.70" y1="65.58" x2="642.70" y2="67.66" stroke="#f7b0b0" stroke-width="0.6"/>
<line x1="641.20" y1="65.58" x2="644.20" y2="65.58" stroke="#f7b0b0" stroke-width="0.6"/>
<line x1="641.20" y1="67.66" x2="644.20" y2="67.66" stroke="#f7b0b0" stroke-width="0.6"/>
<line x1="646.14" y1="64.72" x2="646.14" y2="66.79" stroke="#f7b0b0" stroke-width="0.6"/>
<line x1="644.64" y1="64.72" x2="647.64" y2="64.72" stroke="#f7b0b0" stroke-width="0.6"/>
<line x1="644.64" y1="66.79" x2="647.64" y2="66.79" stroke="#f7b0b0" stroke-width="0.6"/>
<line x1="649.59" y1="64.03" x2="649.59" y2="66.10" stroke="#f7b0b0" stroke-width="0.6"/>
<line x1="648.09" y1="64.03" x2="651.09" y2="64.03" stroke="#f7b0b0" stroke-width="0.6"/>
<line x1="648.09" y1="66.10" x2="651.09" y2="66.10" stroke="#f7b0b0" stroke-width="0.6"/>
<line x1="653.04" y1="65.76" x2="653.04" y2="67.83" stroke="#f7b0b0" stroke-width="0.6"/>
<line x1="651.54" y1="65.76" x2="654.54" y2="65.76" stroke="#f7b0b0" stroke-width="0.6"/>
<line x1="651.54" y1="67.83" x2="654.54" y2="67.83" stroke="#f7b0b0" stroke-width="0.6"/>
<line x1="656.49" y1="66.10" x2="656.49" y2="68.18" stroke="#f7b0b0" stroke-width="0.6"/>
<line x1="654.99" y1="66.10" x2="657.99" y2="66.10" stroke="#f7b0b0" stroke-width="0.6"/>
<line x1="654.99" y1="68.18" x2="657.99" y2="68.18" stroke="#f7b0b0" stroke-width="0.6"/>
<line x1="659.93" y1="65.76" x2="659.93" y2="67.83" stroke="#f7b0b0" stroke-width="0.6"/>
<line x1="658.43" y1="65.76" x2="661.43" y2="65.76" stroke="#f7b0b0" stroke-width="0.6"/>
<line x1="658.43" y1="67.83" x2="661.43" y2="67.83" stroke="#f7b0b0" stroke-width="0.6"/>
<line x1="663.38" y1="65.41" x2="663.38" y2="67.49" stroke="#f7b0b0" stroke-width="0.6"/>
<line x1="661.88" y1="65.41" x2="664.88" y2="65.41" stroke="#f7b0b0" stroke-width="0.6"/>
<line x1="661.88" y1="67.49" x2="664.88" y2="67.49" stroke="#f7b0b0" stroke-width="0.6"/>
<line x1="666.83" y1="67.83" x2="666.83" y2="69.91" stroke="#f7b0b0" stroke-width="0.6"/>
<line x1="665.33" y1="67.83" x2="668.33" y2="67.83" stroke="#f7b0b0" stroke-width="0.6"/>
<line x1="665.33" y1="69.91" x2="668.33" y2="69.91" stroke="#f7b0b0" stroke-width="0.6"/>
<line x1="670.27" y1="65.06" x2="670.27" y2="67.14" stroke="#f7b0b0" stroke-width="0.6"/>
<line x1="668.77" y1="65.06" x2="671.77" y2="65.06" stroke="#f7b0b0" stroke-width="0.6"/>
<line x1="668.77" y1="67.14" x2="671.77" y2="67.14" stroke="#f7b0b0" stroke-width="0.6"/>
<line x1="673.72" y1="68.35" x2="673.72" y2="70.43" stroke="#f7b0b0" stroke-width="0.6"/>
<line x1="672.22" y1="68.35" x2="675.22" y2="68.35" stroke="#f7b0b0" stroke-width="0.6"/>
<line x1="672.22" y1="70.43" x2="675.22" y2="70.43" stroke="#f7b0b0" stroke-width="0.6"/>
<line x1="677.17" y1="65.41" x2="677.17" y2="67.49" stroke="#f7b0b0" stroke-width="0.6"/>
<line x1="675.67" y1="65.41" x2="678.67" y2="65.41" stroke="#f7b0b0" stroke-width="0.6"/>
<line x1="675.67" y1="67.49" x2="678.67" y2="67.49" stroke="#f7b0b0" stroke-width="0.6"/>
<polyline points="525.50,113.16 528.95,111.95 532.39,111.26 535.84,110.56 539.29,110.22 542.74,105.72 546.18,105.55 549.63,100.18 553.08,100.88 556.52,97.24 559.97,94.65 563.42,96.90 566.86,94.82 570.31,92.74 573.76,92.05 577.21,89.28 580.65,87.73 584.10,79.94 587.55,78.90 590.99,79.25 594.44,77.52 597.89,74.23 601.33,77.52 604.78,75.27 608.23,74.06 611.67,70.43 615.12,71.81 618.57,70.77 622.02,72.33 625.46,70.08 628.91,70.60 632.36,69.56 635.80,68.01 639.25,68.52 642.70,66.62 646.14,65.76 649.59,65.06 653.04,66.79 656.49,67.14 659.93,66.79 663.38,66.45 666.83,68.87 670.27,66.10 673.72,69.39 677.17,66.45" fill="none" stroke="#f59595" stroke-width="1.1" stroke-linejoin="miter"/>
<circle cx="525.50" cy="113.16" r="2.25" fill="#f59595"/>
<circle cx="528.95" cy="111.95" r="2.25" fill="#f59595"/>
<circle cx="532.39" cy="111.26" r="2.25" fill="#f59595"/>
<circle cx="535.84" cy="110.56" r="2.25" fill="#f59595"/>
<circle cx="539.29" cy="110.22" r="2.25" fill="#f59595"/>
<circle cx="542.74" cy="105.72" r="2.25" fill="#f59595"/>
<circle cx="546.18" cy="105.55" r="2.25" fill="#f59595"/>
<circle cx="549.63" cy="100.18" r="2.25" fill="#f59595"/>
<circle cx="553.08" cy="100.88" r="2.25" fill="#f59595"/>
<circle cx="556.52" cy="97.24" r="2.25" fill="#f59595"/>
<circle cx="559.97" cy="94.65" r="2.25" fill="#f59595"/>
<circle cx="563.42" cy="96.90" r="2.25" fill="#f59595"/>
<circle cx="566.86" cy="94.82" r="2.25" fill="#f59595"/>
<circle cx="570.31" cy="92.74" r="2.25" fill="#f59595"/>
<circle cx="573.76" cy="92.05" r="2.25" fill="#f59595"/>
<circle cx="577.21" cy="89.28" r="2.25" fill="#f59595"/>
<circle cx="580.65" cy="87.73" r="2.25" fill="#f59595"/>
<circle cx="584.10" cy="79.94" r="2.25" fill="#f59595"/>
<circle cx="587.55" cy="78.90" r="2.25" fill="#f59595"/>
<circle cx="590.99" cy="79.25" r="2.25" fill="#f59595"/>
<circle cx="594.44" cy="77.52" r="2.25" fill="#f59595"/>
<circle cx="597.89" cy="74.23" r="2.25" fill="#f59595"/>
<circle cx="601.33" cy="77.52" r="2.25" fill="#f59595"/>
<circle cx="604.78" cy="75.27" r="2.25" fill="#f59595"/>
<circle cx="608.23" cy="74.06" r="2.25" fill="#f59595"/>
<circle cx="611.67" cy="70.43" r="2.25" fill="#f59595"/>
<circle cx="615.12" cy="71.81" r="2.25" fill="#f59595"/>
<circle cx="618.57" cy="70.77" r="2.25" fill="#f59595"/>
<circle cx="622.02" cy="72.33" r="2.25" fill="#f59595"/>
<circle cx="625.46" cy="70.08" r="2.25" fill="#f59595"/>
<circle cx="628.91" cy="70.60" r="2.25" fill="#f59595"/>
<circle cx="632.36" cy="69.56" r="2.25" fill="#f59595"/>
<circle cx="635.80" cy="68.01" r="2.25" fill="#f59595"/>
<circle cx="639.25" cy="68.52" r="2.25" fill="#f59595"/>
<circle cx="642.70" cy="66.62" r="2.25" fill="#f59595"/>
<circle cx="646.14" cy="65.76" r="2.25" fill="#f59595"/>
<circle cx="649.59" cy="65.06" r="2.25" fill="#f59595"/>
<circle cx="653.04" cy="66.79" r="2.25" fill="#f59595"/>
<circle cx="656.49" cy="67.14" r="2.25" fill="#f59595"/>
<circle cx="659.93" cy="66.79" r="2.25" fill="#f59595"/>
<circle cx="663.38" cy="66.45" r="2.25" fill="#f59595"/>
<circle cx="666.83" cy="68.87" r="2.25" fill="#f59595"/>
<circle cx="670.27" cy="66.10" r="2.25" fill="#f59595"/>
<circle cx="673.72" cy="69.39" r="2.25" fill="#f59595"/>
<circle cx="677.17" cy="66.45" r="2.25" fill="#f59595"/>
<line x1="525.50" y1="107.05" x2="525.50" y2="111.66" stroke="#c4c4c4" stroke-width="0.6"/>
<line x1="524.00" y1="107.05" x2="527.00" y2="107.05" stroke="#c4c4c4" stroke-width="0.6"/>
<line x1="524.00" y1="111.66" x2="527.00" y2="111.66" stroke="#c4c4c4" stroke-width="0.6"/>
<line x1="528.95" y1="104.33" x2="528.95" y2="110.57" stroke="#c4c4c4" stroke-width="0.6"/>
<line x1="527.45" y1="104.33" x2="530.45" y2="104.33" stroke="#c4c4c4" stroke-width="0.6"/>
<line x1="527.45" y1="110.57" x2="530.45" y2="110.57" stroke="#c4c4c4" stroke-width="0.6"/>
<line x1="532.39" y1="104.20" x2="532.39" y2="109.66" stroke="#c4c4c4" stroke-width="0.6"/>
<line x1="530.89" y1="104.20" x2="533.89" y2="104.20" stroke="#c4c4c4" stroke-width="0.6"/>
<line x1="530.89" y1="109.66" x2="533.89" y2="109.66" stroke="#c4c4c4" stroke-width="0.6"/>
<line x1="535.84" y1="100.20" x2="535.84" y2="107.09" stroke="#c4c4c4" stroke-width="0.6"/>
<line x1="534.34" y1="100.20" x2="537.34" y2="100.20" stroke="#c4c4c4" stroke-width="0.6"/>
<line x1="534.34" y1="107.09" x2="537.34" y2="107.09" stroke="#c4c4c4" stroke-width="0.6"/>
<line x1="539.29" y1="99.53" x2="539.29" y2="106.71" stroke="#c4c4c4" stroke-width="0.6"/>
<line x1="537.79" y1="99.53" x2="540.79" y2="99.53" stroke="#c4c4c4" stroke-width="0.6"/>
<line x1="537.79" y1="106.71" x2="540.79" y2="106.71" stroke="#c4c4c4" stroke-width="0.6"/>
<line x1="542.74" y1="96.35" x2="542.74" y2="100.21" stroke="#c4c4c4" stroke-width="0.6"/>
<line x1="541.24" y1="96.35" x2="544.24" y2="96.35" stroke="#c4c4c4" stroke-width="0.6"/>
<line x1="541.24" y1="100.21" x2="544.24" y2="100.21" stroke="#c4c4c4" stroke-width="0.6"/>
<line x1="546.18" y1="95.82" x2="546.18" y2="99.36" stroke="#c4c4c4" stroke-width="0.6"/>
<line x1="544.68" y1="95.82" x2="547.68" y2="95.82" stroke="#c4c4c4" stroke-width="0.6"/>
<line x1="544.68" y1="99.36" x2="547.68" y2="99.36" stroke="#c4c4c4" stroke-width="0.6"/>
<line x1="549.63" y1="91.29" x2="549.63" y2="100.42" stroke="#c4c4c4" stroke-width="0.6"/>
<line x1="548.13" y1="91.29" x2="551.13" y2="91.29" stroke="#c4c4c4" stroke-width="0.6"/>
<line x1="548.13" y1="100.42" x2="551.13" y2="100.42" stroke="#c4c4c4" stroke-width="0.6"/>
<line x1="553.08" y1="90.27" x2="553.08" y2="95.56" stroke="#c4c4c4" stroke-width="0.6"/>
<line x1="551.58" y1="90.27" x2="554.58" y2="90.27" stroke="#c4c4c4" stroke-width="0.6"/>
<line x1="551.58" y1="95.56" x2="554.58" y2="95.56" stroke="#c4c4c4" stroke-width="0.6"/>
<line x1="556.52" y1="88.08" x2="556.52" y2="93.26" stroke="#c4c4c4" stroke-width="0.6"/>
<line x1="555.02" y1="88.08" x2="558.02" y2="88.08" stroke="#c4c4c4" stroke-width="0.6"/>
<line x1="555.02" y1="93.26" x2="558.02" y2="93.26" stroke="#c4c4c4" stroke-width="0.6"/>
<line x1="559.97" y1="82.39" x2="559.97" y2="93.41" stroke="#c4c4c4" stroke-width="0.6"/>
<line x1="558.47" y1="82.39" x2="561.47" y2="82.39" stroke="#c4c4c4" stroke-width="0.6"/>
<line x1="558.47" y1="93.41" x2="561.47" y2="93.41" stroke="#c4c4c4" stroke-width="0.6"/>
<line x1="563.42" y1="83.63" x2="563.42" y2="90.79" stroke="#c4c4c4" stroke-width="0.6"/>
<line x1="561.92" y1="83.63" x2="564.92" y2="83.63" stroke="#c4c4c4" stroke-width="0.6"/>
<line x1="561.92" y1="90.79" x2="564.92" y2="90.79" stroke="#c4c4c4" stroke-width="0.6"/>
<line x1="566.86" y1="79.65" x2="566.86" y2="89.92" stroke="#c4c4c4" stroke-width="0.6"/>
<line x1="565.36" y1="79.65" x2="568.36" y2="79.65" stroke="#c4c4c4" stroke-width="0.6"/>
<line x1="565.36" y1="89.92" x2="568.36" y2="89.92" stroke="#c4c4c4" stroke-width="0.6"/>
<line x1="570.31" y1="75.86" x2="570.31" y2="83.33" stroke="#c4c4c4" stroke-width="0.6"/>
<line x1="568.81" y1="75.86" x2="571.81" y2="75.86" stroke="#c4c4c4" stroke-width="0.6"/>
<line x1="568.81" y1="83.33" x2="571.81" y2="83.33" stroke="#c4c4c4" stroke-width="0.6"/>
<line x1="573.76" y1="76.12" x2="573.76" y2="85.14" stroke="#c4c4c4" stroke-width="0.6"/>
<line x1="572.26" y1="76.12" x2="575.26" y2="76.12" stroke="#c4c4c4" stroke-width="0.6"/>
<line x1="572.26" y1="85.14" x2="575.26" y2="85.14" stroke="#c4c4c4" stroke-width="0.6"/>
<line x1="577.21" y1="71.31" x2="577.21" y2="76.12" stroke="#c4c4c4" stroke-width="0.6"/>
<line x1="575.71" y1="71.31" x2="578.71" y2="71.31" stroke="#c4c4c4" stroke-width="0.6"/>
<line x1="575.71" y1="76.12" x2="578.71" y2="76.12" stroke="#c4c4c4" stroke-width="0.6"/>
<line x1="580.65" y1="73.55" x2="580.65" y2="82.88" stroke="#c4c4c4" stroke-width="0.6"/>
<line x1="579.15" y1="73.55" x2="582.15" y2="73.55" stroke="#c4c4c4" stroke-width="0.6"/>
<line x1="579.15" y1="82.88" x2="582.15" y2="82.88" stroke="#c4c4c4" stroke-width="0.6"/>
<line x1="584.10" y1="69.06" x2="584.10" y2="80.79" stroke="#c4c4c4" stroke-width="0.6"/>
<line x1="582.60" y1="69.06" x2="585.60" y2="69.06" stroke="#c4c4c4" stroke-width="0.6"/>
<line x1="582.60" y1="80.79" x2="585.60" y2="80.79" stroke="#c4c4c4" stroke-width="0.6"/>
<line x1="587.55" y1="67.86" x2="587.55" y2="76.45" stroke="#c4c4c4" stroke-width="0.6"/>
<line x1="586.05" y1="67.86" x2="589.05" y2="67.86" stroke="#c4c4c4" stroke-width="0.6"/>
<line x1="586.05" y1="76.45" x2="589.05" y2="76.45" stroke="#c4c4c4" stroke-width="0.6"/>
<line x1="590.99" y1="63.58" x2="590.99" y2="74.51" stroke="#c4c4c4" stroke-width="0.6"/>
<line x1="589.49" y1="63.58" x2="592.49" y2="63.58" stroke="#c4c4c4" stroke-width="0.6"/>
<line x1="589.49" y1="74.51" x2="592.49" y2="74.51" stroke="#c4c4c4" stroke-width="0.6"/>
<line x1="594.44" y1="59.34" x2="594.44" y2="69.75" stroke="#c4c4c4" stroke-width="0.6"/>
<line x1="592.94" y1="59.34" x2="595.94" y2="59.34" stroke="#c4c4c4" stroke-width="0.6"/>
<line x1="592.94" y1="69.75" x2="595.94" y2="69.75" stroke="#c4c4c4" stroke-width="0.6"/>
<line x1="597.89" y1="62.65" x2="597.89" y2="66.79" stroke="#c4c4c4" stroke-width="0.6"/>
<line x1="596.39" y1="62.65" x2="599.39" y2="62.65" stroke="#c4c4c4" stroke-width="0.6"/>
<line x1="596.39" y1="66.79" x2="599.39" y2="66.79" stroke="#c4c4c4" stroke-width="0.6"/>
<line x1="601.33" y1="55.40" x2="601.33" y2="67.12" stroke="#c4c4c4" stroke-width="0.6"/>
<line x1="599.83" y1="55.40" x2="602.83" y2="55.40" stroke="#c4c4c4" stroke-width="0.6"/>
<line x1="599.83" y1="67.12" x2="602.83" y2="67.12" stroke="#c4c4c4" stroke-width="0.6"/>
<line x1="604.78" y1="58.13" x2="604.78" y2="68.19" stroke="#c4c4c4" stroke-width="0.6"/>
<line x1="603.28" y1="58.13" x2="606.28" y2="58.13" stroke="#c4c4c4" stroke-width="0.6"/>
<line x1="603.28" y1="68.19" x2="606.28" y2="68.19" stroke="#c4c4c4" stroke-width="0.6"/>
<line x1="608.23" y1="59.19" x2="608.23" y2="66.10" stroke="#c4c4c4" stroke-width="0.6"/>
<line x1="606.73" y1="59.19" x2="609.73" y2="59.19" stroke="#c4c4c4" stroke-width="0.6"/>
<line x1="606.73" y1="66.10" x2="609.73" y2="66.10" stroke="#c4c4c4" stroke-width="0.6"/>
<line x1="611.67" y1="63.84" x2="611.67" y2="67.67" stroke="#c4c4c4" stroke-width="0.6"/>
<line x1="610.17" y1="63.84" x2="613.17" y2="63.84" stroke="#c4c4c4" stroke-width="0.6"/>
<line x1="610.17" y1="67.67" x2="613.17" y2="67.67" stroke="#c4c4c4" stroke-width="0.6"/>
<line x1="615.12" y1="55.03" x2="615.12" y2="68.87" stroke="#c4c4c4" stroke-width="0.6"/>
<line x1="613.62" y1="55.03" x2="616.62" y2="55.03" stroke="#c4c4c4" stroke-width="0.6"/>
<line x1="613.62" y1="68.87" x2="616.62" y2="68.87" stroke="#c4c4c4" stroke-width="0.6"/>
<line x1="618.57" y1="54.20" x2="618.57" y2="63.47" stroke="#c4c4c4" stroke-width="0.6"/>
<line x1="617.07" y1="54.20" x2="620.07" y2="54.20" stroke="#c4c4c4" stroke-width="0.6"/>
<line x1="617.07" y1="63.47" x2="620.07" y2="63.47" stroke="#c4c4c4" stroke-width="0.6"/>
<line x1="622.02" y1="50.52" x2="622.02" y2="63.00" stroke="#c4c4c4" stroke-width="0.6"/>
<line x1="620.52" y1="50.52" x2="623.52" y2="50.52" stroke="#c4c4c4" stroke-width="0.6"/>
<line x1="620.52" y1="63.00" x2="623.52" y2="63.00" stroke="#c4c4c4" stroke-width="0.6"/>
<line x1="625.46" y1="52.16" x2="625.46" y2="66.89" stroke="#c4c4c4" stroke-width="0.6"/>
<line x1="623.96" y1="52.16" x2="626.96" y2="52.16" stroke="#c4c4c4" stroke-width="0.6"/>
<line x1="623.96" y1="66.89" x2="626.96" y2="66.89" stroke="#c4c4c4" stroke-width="0.6"/>
<line x1="628.91" y1="48.45" x2="628.91" y2="61.26" stroke="#c4c4c4" stroke-width="0.6"/>
<line x1="627.41" y1="48.45" x2="630.41" y2="48.45" stroke="#c4c4c4" stroke-width="0.6"/>
<line x1="627.41" y1="61.26" x2="630.41" y2="61.26" stroke="#c4c4c4" stroke-width="0.6"/>
<line x1="632.36" y1="49.04" x2="632.36" y2="64.82" stroke="#c4c4c4" stroke-width="0.6"/>
<line x1="630.86" y1="49.04" x2="633.86" y2="49.04" stroke="#c4c4c4" stroke-width="0.6"/>
<line x1="630.86" y1="64.82" x2="633.86" y2="64.82" stroke="#c4c4c4" stroke-width="0.6"/>
<line x1="635.80" y1="46.63" x2="635.80" y2="55.48" stroke="#c4c4c4" stroke-width="0.6"/>
<line x1="634.30" y1="46.63" x2="637.30" y2="46.63" stroke="#c4c4c4" stroke-width="0.6"/>
<line x1="634.30" y1="55.48" x2="637.30" y2="55.48" stroke="#c4c4c4" stroke-width="0.6"/>
<line x1="639.25" y1="48.24" x2="639.25" y2="62.86" stroke="#c4c4c4" stroke-width="0.6"/>
<line x1="637.75" y1="48.24" x2="640.75" y2="48.24" stroke="#c4c4c4" stroke-width="0.6"/>
<line x1="637.75" y1="62.86" x2="640.75" y2="62.86" stroke="#c4c4c4" stroke-width="0.6"/>
<line x1="642.70" y1="44.78" x2="642.70" y2="54.55" stroke="#c4c4c4" stroke-width="0.6"/>
<line x1="641.20" y1="44.78" x2="644.20" y2="44.78" stroke="#c4c4c4" stroke-width="0.6"/>
<line x1="641.20" y1="54.55" x2="644.20" y2="54.55" stroke="#c4c4c4" stroke-width="0.6"/>
<line x1="646.14" y1="41.86" x2="646.14" y2="58.86" stroke="#c4c4c4" stroke-width="0.6"/>
<line x1="644.64" y1="41.86" x2="647.64" y2="41.86" stroke="#c4c4c4" stroke-width="0.6"/>
<line x1="644.64" y1="58.86" x2="647.64" y2="58.86" stroke="#c4c4c4" stroke-width="0.6"/>
<line x1="649.59" y1="40.42" x2="649.59" y2="56.84" stroke="#c4c4c4" stroke-width="0.6"/>
<line x1="648.09" y1="40.42" x2="651.09" y2="40.42" stroke="#c4c4c4" stroke-width="0.6"/>
<line x1="648.09" y1="56.84" x2="651.09" y2="56.84" stroke="#c4c4c4" stroke-width="0.6"/>
<line x1="653.04" y1="47.90" x2="653.04" y2="52.82" stroke="#c4c4c4" stroke-width="0.6"/>
<line x1="651.54" y1="47.90" x2="654.54" y2="47.90" stroke="#c4c4c4" stroke-width="0.6"/>
<line x1="651.54" y1="52.82" x2="654.54" y2="52.82" stroke="#c4c4c4" stroke-width="0.6"/>
<line x1="656.49" y1="49.66" x2="656.49" y2="55.21" stroke="#c4c4c4" stroke-width="0.6"/>
<line x1="654.99" y1="49.66" x2="657.99" y2="49.66" stroke="#c4c4c4" stroke-width="0.6"/>
<line x1="654.99" y1="55.21" x2="657.99" y2="55.21" stroke="#c4c4c4" stroke-width="0.6"/>
<line x1="659.93" y1="47.63" x2="659.93" y2="54.47" stroke="#c4c4c4" stroke-width="0.6"/>
<line x1="658.43" y1="47.63" x2="661.43" y2="47.63" stroke="#c4c4c4" stroke-width="0.6"/>
<line x1="658.43" y1="54.47" x2="661.43" y2="54.47" stroke="#c4c4c4" stroke-width="0.6"/>
<line x1="663.38" y1="39.94" x2="663.38" y2="58.70" stroke="#c4c4c4" stroke-width="0.6"/>
<line x1="661.88" y1="39.94" x2="664.88" y2="39.94" stroke="#c4c4c4" stroke-width="0.6"/>
<line x1="661.88" y1="58.70" x2="664.88" y2="58.70" stroke="#c4c4c4" stroke-width="0.6"/>
<line x1="666.83" y1="42.34" x2="666.83" y2="52.84" stroke="#c4c4c4" stroke-width="0.6"/>
<line x1="665.33" y1="42.34" x2="668.33" y2="42.34" stroke="#c4c4c4" stroke-width="0.6"/>
<line x1="665.33" y1="52.84" x2="668.33" y2="52.84" stroke="#c4c4c4" stroke-width="0.6"/>
<line x1="670.27" y1="40.72" x2="670.27" y2="54.46" stroke="#c4c4c4" stroke-width="0.6"/>
<line x1="668.77" y1="40.72" x2="671.77" y2="40.72" stroke="#c4c4c4" stroke-width="0.6"/>
<line x1="668.77" y1="54.46" x2="671.77" y2="54.46" stroke="#c4c4c4" stroke-width="0.6"/>
<line x1="673.72" y1="46.12" x2="673.72" y2="54.60" stroke="#c4c4c4" stroke-width="0.6"/>
<line x1="672.22" y1="46.12" x2="675.22" y2="46.12" stroke="#c4c4c4" stroke-width="0.6"/>
<line x1="672.22" y1="54.60" x2="675.22" y2="54.60" stroke="#c4c4c4" stroke-width="0.6"/>
<line x1="677.17" y1="42.08" x2="677.17" y2="54.14" stroke="#c4c4c4" stroke-width="0.6"/>
<line x1="675.67" y1="42.08" x2="678.67" y2="42.08" stroke="#c4c4c4" stroke-width="0.6"/>
<line x1="675.67" y1="54.14" x2="678.67" y2="54.14" stroke="#c4c4c4" stroke-width="0.6"/>
<polyline points="525.50,109.35 528.95,107.45 532.39,106.93 535.84,103.64 539.29,103.12 542.74,98.28 546.18,97.59 549.63,95.86 553.08,92.92 556.52,90.67 559.97,87.90 563.42,87.21 566.86,84.79 570.31,79.60 573.76,80.63 577.21,73.71 580.65,78.21 584.10,74.93 587.55,72.16 590.99,69.04 594.44,64.55 597.89,64.72 601.33,61.26 604.78,63.16 608.23,62.64 611.67,65.76 615.12,61.95 618.57,58.84 622.02,56.76 625.46,59.53 628.91,54.86 632.36,56.93 635.80,51.05 639.25,55.55 642.70,49.67 646.14,50.36 649.59,48.63 653.04,50.36 656.49,52.44 659.93,51.05 663.38,49.32 666.83,47.59 670.27,47.59 673.72,50.36 677.17,48.11" fill="none" stroke="#a9a9a9" stroke-width="1.1" stroke-linejoin="miter"/>
<circle cx="525.50" cy="109.35" r="2.25" fill="#a9a9a9"/>
<circle cx="528.95" cy="107.45" r="2.25" fill="#a9a9a9"/>
<circle cx="532.39" cy="106.93" r="2.25" fill="#a9a9a9"/>
<circle cx="535.84" cy="103.64" r="2.25" fill="#a9a9a9"/>
<circle cx="539.29" cy="103.12" r="2.25" fill="#a9a9a9"/>
<circle cx="542.74" cy="98.28" r="2.25" fill="#a9a9a9"/>
<circle cx="546.18" cy="97.59" r="2.25" fill="#a9a9a9"/>
<circle cx="549.63" cy="95.86" r="2.25" fill="#a9a9a9"/>
<circle cx="553.08" cy="92.92" r="2.25" fill="#a9a9a9"/>
<circle cx="556.52" cy="90.67" r="2.25" fill="#a9a9a9"/>
<circle cx="559.97" cy="87.90" r="2.25" fill="#a9a9a9"/>
<circle cx="563.42" cy="87.21" r="2.25" fill="#a9a9a9"/>
<circle cx="566.86" cy="84.79" r="2.25" fill="#a9a9a9"/>
<circle cx="570.31" cy="79.60" r="2.25" fill="#a9a9a9"/>
<circle cx="573.76" cy="80.63" r="2.25" fill="#a9a9a9"/>
<circle cx="577.21" cy="73.71" r="2.25" fill="#a9a9a9"/>
<circle cx="580.65" cy="78.21" r="2.25" fill="#a9a9a9"/>
<circle cx="584.10" cy="74.93" r="2.25" fill="#a9a9a9"/>
<circle cx="587.55" cy="72.16" r="2.25" fill="#a9a9a9"/>
<circle cx="590.99" cy="69.04" r="2.25" fill="#a9a9a9"/>
<circle cx="594.44" cy="64.55" r="2.25" fill="#a9a9a9"/>
<circle cx="597.89" cy="64.72" r="2.25" fill="#a9a9a9"/>
<circle cx="601.33" cy="61.26" r="2.25" fill="#a9a9a9"/>
<circle cx="604.78" cy="63.16" r="2.25" fill="#a9a9a9"/>
<circle cx="608.23" cy="62.64" r="2.25" fill="#a9a9a9"/>
<circle cx="611.67" cy="65.76" r="2.25" fill="#a9a9a9"/>
<circle cx="615.12" cy="61.95" r="2.25" fill="#a9a9a9"/>
<circle cx="618.57" cy="58.84" r="2.25" fill="#a9a9a9"/>
<circle cx="622.02" cy="56.76" r="2.25" fill="#a9a9a9"/>
<circle cx="625.46" cy="59.53" r="2.25" fill="#a9a9a9"/>
<circle cx="628.91" cy="54.86" r="2.25" fill="#a9a9a9"/>
<circle cx="632.36" cy="56.93" r="2.25" fill="#a9a9a9"/>
<circle cx="635.80" cy="51.05" r="2.25" fill="#a9a9a9"/>
<circle cx="639.25" cy="55.55" r="2.25" fill="#a9a9a9"/>
<circle cx="642.70" cy="49.67" r="2.25" fill="#a9a9a9"/>
<circle cx="646.14" cy="50.36" r="2.25" fill="#a9a9a9"/>
<circle cx="649.59" cy="48.63" r="2.25" fill="#a9a9a9"/>
<circle cx="653.04" cy="50.36" r="2.25" fill="#a9a9a9"/>
<circle cx="656.49" cy="52.44" r="2.25" fill="#a9a9a9"/>
<circle cx="659.93" cy="51.05" r="2.25" fill="#a9a9a9"/>
<circle cx="663.38" cy="49.32" r="2.25" fill="#a9a9a9"/>
<circle cx="666.83" cy="47.59" r="2.25" fill="#a9a9a9"/>
<circle cx="670.27" cy="47.59" r="2.25" fill="#a9a9a9"/>
<circle cx="673.72" cy="50.36" r="2.25" fill="#a9a9a9"/>
<circle cx="677.17" cy="48.11" r="2.25" fill="#a9a9a9"/>
<line x1="525.50" y1="33.50" x2="525.50" y2="140.30" stroke="#777" stroke-width="1"/>
<line x1="525.50" y1="139.80" x2="681.20" y2="139.80" stroke="#888" stroke-width="1"/>
<line x1="521.70" y1="139.80" x2="525.50" y2="139.80" stroke="#555555" stroke-width="0.9"/>
<text font-size="7.6" text-anchor="end" transform="translate(518.90 142.50)">0</text>
<line x1="521.70" y1="105.20" x2="525.50" y2="105.20" stroke="#555555" stroke-width="0.9"/>
<text font-size="7.6" text-anchor="end" transform="translate(518.90 107.90)">0.2</text>
<line x1="521.70" y1="70.60" x2="525.50" y2="70.60" stroke="#555555" stroke-width="0.9"/>
<text font-size="7.6" text-anchor="end" transform="translate(518.90 73.30)">0.4</text>
<line x1="521.70" y1="36.00" x2="525.50" y2="36.00" stroke="#555555" stroke-width="0.9"/>
<text font-size="7.6" text-anchor="end" transform="translate(518.90 38.70)">0.6</text>
<line x1="525.50" y1="139.80" x2="525.50" y2="143.60" stroke="#555555" stroke-width="0.9"/>
<text font-size="7.6" text-anchor="middle" transform="translate(525.50 152.50)">0</text>
<line x1="577.21" y1="139.80" x2="577.21" y2="143.60" stroke="#555555" stroke-width="0.9"/>
<text font-size="7.6" text-anchor="middle" transform="translate(577.21 152.50)">15</text>
<line x1="628.91" y1="139.80" x2="628.91" y2="143.60" stroke="#555555" stroke-width="0.9"/>
<text font-size="7.6" text-anchor="middle" transform="translate(628.91 152.50)">30</text>
<line x1="680.62" y1="139.80" x2="680.62" y2="143.60" stroke="#555555" stroke-width="0.9"/>
<text font-size="7.6" text-anchor="middle" transform="translate(680.62 152.50)">45</text>
<text font-size="8.6" text-anchor="middle" transform="translate(603.20 165.30) scale(1.0180 1)">Time (min)</text>
<text font-size="8.6" text-anchor="middle" letter-spacing="0.311" transform="translate(499.20 87.90) rotate(-90) translate(0.16 0)">Absorbance (450 nm)</text>
<text font-size="8.8" transform="translate(528.70 43.80) scale(1.0260 1)">OGDHc activity</text>
<line x1="623.20" y1="101.20" x2="632.90" y2="101.20" stroke="#a9a9a9" stroke-width="1"/>
<circle cx="628.10" cy="101.20" r="2.1" fill="#a9a9a9"/>
<text font-size="7.7" transform="translate(637.00 103.90) scale(1.0068 1)">Vehicle</text>
<line x1="623.20" y1="112.30" x2="632.90" y2="112.30" stroke="#f59595" stroke-width="1"/>
<circle cx="628.10" cy="112.30" r="2.1" fill="#f59595"/>
<text font-size="7.7" transform="translate(637.00 115.00) scale(0.9429 1)">ML226</text>
<line x1="623.20" y1="123.40" x2="632.90" y2="123.40" stroke="#148a4a" stroke-width="1"/>
<circle cx="628.10" cy="123.40" r="2.1" fill="#148a4a"/>
<text font-size="7.7" transform="translate(637.00 126.10) scale(0.8869 1)">KMV</text>
<line x1="623.20" y1="134.50" x2="632.90" y2="134.50" stroke="#d9d9d9" stroke-width="1"/>
<circle cx="628.10" cy="134.50" r="2.1" fill="#d9d9d9"/>
<text font-size="7.7" transform="translate(637.00 137.20) scale(0.9831 1)">Background</text>
<text font-size="7.6" transform="translate(13.90 208.50) scale(0.8953 1)">kDa</text>
<text font-size="9.2" transform="translate(39.20 208.50) rotate(-45)">Vehicle</text>
<text font-size="8.5" transform="translate(61.30 208.00) rotate(-45)">ML226</text>
<text font-size="8.5" transform="translate(84.90 208.50) rotate(-45)">DEG</text>
<rect x="26.60" y="212.10" width="69.30" height="64.30" fill="#e3e3e3" stroke="#5a5a5a" stroke-width="1"/>
<path d="M31.70,218.40 Q38.20,220.00 44.70,218.40" stroke="rgb(185,185,185)" stroke-width="2.0" stroke-linecap="round" fill="none" filter="url(#bl)"/>
<path d="M30.80,228.90 Q38.20,227.50 45.60,228.90" stroke="rgb(38,38,38)" stroke-width="4.2" stroke-linecap="round" fill="none" filter="url(#bl)"/>
<path d="M31.30,242.80 Q38.20,244.40 45.10,242.80" stroke="rgb(170,170,170)" stroke-width="2.2" stroke-linecap="round" fill="none" filter="url(#bl)"/>
<path d="M31.40,263.10 Q38.20,264.90 45.00,263.10" stroke="rgb(120,120,120)" stroke-width="2.4" stroke-linecap="round" fill="none" filter="url(#bl)"/>
<path d="M54.00,218.40 Q60.50,220.00 67.00,218.40" stroke="rgb(192,192,192)" stroke-width="2.0" stroke-linecap="round" fill="none" filter="url(#bl)"/>
<path d="M53.10,228.90 Q60.50,227.50 67.90,228.90" stroke="rgb(45,45,45)" stroke-width="4.2" stroke-linecap="round" fill="none" filter="url(#bl)"/>
<path d="M53.60,242.80 Q60.50,244.40 67.40,242.80" stroke="rgb(180,180,180)" stroke-width="2.2" stroke-linecap="round" fill="none" filter="url(#bl)"/>
<path d="M77.20,218.40 Q83.70,220.00 90.20,218.40" stroke="rgb(195,195,195)" stroke-width="2.0" stroke-linecap="round" fill="none" filter="url(#bl)"/>
<path d="M76.30,228.90 Q83.70,227.50 91.10,228.90" stroke="rgb(40,40,40)" stroke-width="4.2" stroke-linecap="round" fill="none" filter="url(#bl)"/>
<path d="M76.80,242.80 Q83.70,244.40 90.60,242.80" stroke="rgb(175,175,175)" stroke-width="2.2" stroke-linecap="round" fill="none" filter="url(#bl)"/>
<path d="M76.90,263.10 Q83.70,264.90 90.50,263.10" stroke="rgb(125,125,125)" stroke-width="2.4" stroke-linecap="round" fill="none" filter="url(#bl)"/>
<rect x="26.60" y="278.20" width="69.30" height="21.30" fill="#e3e3e3" stroke="#5a5a5a" stroke-width="1"/>
<path d="M30.90,289.90 Q38.20,288.10 45.50,289.90" stroke="rgb(50,50,50)" stroke-width="4.4" stroke-linecap="round" fill="none" filter="url(#bl)"/>
<path d="M53.20,289.90 Q60.50,288.10 67.80,289.90" stroke="rgb(52,52,52)" stroke-width="4.4" stroke-linecap="round" fill="none" filter="url(#bl)"/>
<path d="M76.40,289.90 Q83.70,288.10 91.00,289.90" stroke="rgb(62,62,62)" stroke-width="4.4" stroke-linecap="round" fill="none" filter="url(#bl)"/>
<rect x="26.60" y="302.00" width="69.30" height="21.30" fill="#e3e3e3" stroke="#5a5a5a" stroke-width="1"/>
<path d="M31.30,312.00 Q38.20,312.60 45.10,312.00" stroke="rgb(198,198,198)" stroke-width="2.2" stroke-linecap="round" fill="none" filter="url(#bl)"/>
<path d="M53.45,313.50 Q60.50,311.10 67.55,313.50" stroke="rgb(30,30,30)" stroke-width="3.4" stroke-linecap="round" fill="none" filter="url(#bl)"/>
<path d="M76.80,312.00 Q83.70,312.60 90.60,312.00" stroke="rgb(196,196,196)" stroke-width="2.2" stroke-linecap="round" fill="none" filter="url(#bl)"/>
<rect x="26.60" y="326.00" width="69.30" height="21.40" fill="#e3e3e3" stroke="#5a5a5a" stroke-width="1"/>
<path d="M29.45,332.20 Q38.20,333.20 46.95,332.20 Q49.65,335.96 46.95,339.72 Q38.20,343.48 29.45,339.72 Q26.75,335.96 29.45,332.20 Z" fill="rgb(40,40,40)" filter="url(#bl3)"/>
<path d="M51.75,332.20 Q60.50,333.20 69.25,332.20 Q71.95,335.96 69.25,339.72 Q60.50,343.48 51.75,339.72 Q49.05,335.96 51.75,332.20 Z" fill="rgb(40,40,40)" filter="url(#bl3)"/>
<path d="M74.95,332.20 Q83.70,333.20 92.45,332.20 Q95.15,335.96 92.45,339.72 Q83.70,343.48 74.95,339.72 Q72.25,335.96 74.95,332.20 Z" fill="rgb(40,40,40)" filter="url(#bl3)"/>
<line x1="22.40" y1="217.20" x2="26.60" y2="217.20" stroke="#444" stroke-width="0.9"/>
<text font-size="7.9" text-anchor="end" transform="translate(20.60 220.00)">98</text>
<line x1="22.40" y1="258.00" x2="26.60" y2="258.00" stroke="#444" stroke-width="0.9"/>
<text font-size="7.9" text-anchor="end" transform="translate(20.60 260.80)">64</text>
<line x1="22.40" y1="283.60" x2="26.60" y2="283.60" stroke="#444" stroke-width="0.9"/>
<text font-size="7.9" text-anchor="end" transform="translate(20.60 286.40)">98</text>
<line x1="22.40" y1="306.10" x2="26.60" y2="306.10" stroke="#444" stroke-width="0.9"/>
<text font-size="7.9" text-anchor="end" transform="translate(20.60 308.90)">64</text>
<line x1="22.40" y1="338.00" x2="26.60" y2="338.00" stroke="#444" stroke-width="0.9"/>
<text font-size="7.9" text-anchor="end" transform="translate(20.60 340.80)">50</text>
<text font-size="8.4" transform="translate(98.80 219.00)">Lp</text>
<path d="M99.10,229.50 L105.40,226.00 L105.40,233.00 Z" fill="#111"/>
<text font-size="8.4" transform="translate(109.60 232.40) scale(0.9826 1)">PDHc-E2</text>
<path d="M99.10,264.20 L105.40,260.70 L105.40,267.70 Z" fill="#111"/>
<text font-size="8.4" transform="translate(109.60 267.20) scale(0.9889 1)">OGDHc-E2</text>
<text font-size="8.4" transform="translate(98.60 292.30) scale(0.9826 1)">PDHc-E2</text>
<text font-size="8.4" transform="translate(98.60 315.30) scale(0.9889 1)">OGDHc-E2</text>
<text font-size="8.4" transform="translate(98.60 340.20) scale(1.1215 1)">β-Actin</text>
<text font-size="8.6" transform="translate(26.30 356.60) scale(1.0186 1)">HeLa cells</text>
<text font-size="7.6" transform="translate(388.80 207.70) scale(0.8953 1)">kDa</text>
<text font-size="9.2" transform="translate(414.10 209.00) rotate(-45)">Vehicle</text>
<text font-size="8.8" transform="translate(433.50 208.10) rotate(-45)">ML226</text>
<text font-size="8.5" transform="translate(457.50 209.10) rotate(-45)">DEG</text>
<rect x="401.00" y="212.40" width="69.50" height="64.00" fill="#e6e6e6" stroke="#6a6a6a" stroke-width="1"/>
<path d="M428.05,222.20 Q433.80,222.20 439.55,222.20" stroke="rgb(178,178,178)" stroke-width="4.0" stroke-linecap="round" fill="none" filter="url(#bl2)"/>
<path d="M453.80,223.50 Q458.30,223.50 462.80,223.50" stroke="rgb(22,22,22)" stroke-width="10" stroke-linecap="round" fill="none" filter="url(#bl2)"/>
<rect x="401.00" y="278.60" width="69.50" height="19.50" fill="#e6e6e6" stroke="#6a6a6a" stroke-width="1"/>
<path d="M405.30,287.80 Q412.80,289.00 420.30,287.80" stroke="rgb(88,88,88)" stroke-width="5.0" stroke-linecap="round" fill="none" filter="url(#bl3)"/>
<path d="M427.80,287.80 Q435.30,289.00 442.80,287.80" stroke="rgb(92,92,92)" stroke-width="5.0" stroke-linecap="round" fill="none" filter="url(#bl3)"/>
<path d="M451.30,287.80 Q458.80,289.00 466.30,287.80" stroke="rgb(80,80,80)" stroke-width="5.0" stroke-linecap="round" fill="none" filter="url(#bl3)"/>
<rect x="401.00" y="300.10" width="69.50" height="18.70" fill="#e6e6e6" stroke="#6a6a6a" stroke-width="1"/>
<path d="M404.80,308.50 Q412.80,310.10 420.80,308.50" stroke="rgb(135,135,135)" stroke-width="3.0" stroke-linecap="round" fill="none" filter="url(#bl)"/>
<path d="M427.30,308.50 Q435.30,310.10 443.30,308.50" stroke="rgb(100,100,100)" stroke-width="3.0" stroke-linecap="round" fill="none" filter="url(#bl)"/>
<path d="M450.80,308.50 Q458.80,310.10 466.80,308.50" stroke="rgb(140,140,140)" stroke-width="3.0" stroke-linecap="round" fill="none" filter="url(#bl)"/>
<rect x="401.00" y="321.40" width="69.50" height="19.30" fill="#e6e6e6" stroke="#6a6a6a" stroke-width="1"/>
<path d="M404.30,326.30 Q412.80,327.30 421.30,326.30 Q424.00,329.38 421.30,332.45 Q412.80,336.55 404.30,332.45 Q401.60,329.38 404.30,326.30 Z" fill="rgb(50,50,50)" filter="url(#bl3)"/>
<path d="M426.80,326.30 Q435.30,327.30 443.80,326.30 Q446.50,329.38 443.80,332.45 Q435.30,336.55 426.80,332.45 Q424.10,329.38 426.80,326.30 Z" fill="rgb(50,50,50)" filter="url(#bl3)"/>
<path d="M450.30,326.30 Q458.80,327.30 467.30,326.30 Q470.00,329.38 467.30,332.45 Q458.80,336.55 450.30,332.45 Q447.60,329.38 450.30,326.30 Z" fill="rgb(50,50,50)" filter="url(#bl3)"/>
<line x1="396.80" y1="214.60" x2="401.00" y2="214.60" stroke="#444" stroke-width="0.9"/>
<text font-size="7.9" text-anchor="end" transform="translate(395.00 217.40)">98</text>
<line x1="396.80" y1="258.80" x2="401.00" y2="258.80" stroke="#444" stroke-width="0.9"/>
<text font-size="7.9" text-anchor="end" transform="translate(395.00 261.60)">64</text>
<line x1="396.80" y1="281.40" x2="401.00" y2="281.40" stroke="#444" stroke-width="0.9"/>
<text font-size="7.9" text-anchor="end" transform="translate(395.00 284.20)">98</text>
<line x1="396.80" y1="302.30" x2="401.00" y2="302.30" stroke="#444" stroke-width="0.9"/>
<text font-size="7.9" text-anchor="end" transform="translate(395.00 305.10)">64</text>
<line x1="396.80" y1="330.90" x2="401.00" y2="330.90" stroke="#444" stroke-width="0.9"/>
<text font-size="7.9" text-anchor="end" transform="translate(395.00 333.70)">50</text>
<text font-size="8.4" transform="translate(473.20 213.10)">K</text>
<text font-size="6.2" transform="translate(478.40 216.90)">glu</text>
<path d="M473.80,224.00 L480.10,220.50 L480.10,227.50 Z" fill="#111"/>
<text font-size="8.4" transform="translate(484.30 226.60) scale(0.9655 1)">PDHc-E2</text>
<text font-size="8.4" transform="translate(473.20 291.40) scale(0.9826 1)">PDHc-E2</text>
<text font-size="8.4" transform="translate(473.20 312.30) scale(0.9889 1)">OGDHc-E2</text>
<text font-size="8.4" transform="translate(473.20 333.30) scale(1.1215 1)">β-Actin</text>
<text font-size="8.6" transform="translate(400.70 350.10) scale(1.0111 1)">HeLa cells</text>
<line x1="225.50" y1="218.20" x2="225.50" y2="319.60" stroke="#8c8c8c" stroke-width="1.1"/>
<line x1="221.00" y1="218.65" x2="225.50" y2="218.65" stroke="#8c8c8c" stroke-width="1.1"/>
<text font-size="8.1" text-anchor="end" fill="#2a2a2a" transform="translate(218.20 221.55)">1.5</text>
<line x1="221.00" y1="252.30" x2="225.50" y2="252.30" stroke="#8c8c8c" stroke-width="1.1"/>
<text font-size="8.1" text-anchor="end" fill="#2a2a2a" transform="translate(218.20 255.20)">1.0</text>
<line x1="221.00" y1="285.95" x2="225.50" y2="285.95" stroke="#8c8c8c" stroke-width="1.1"/>
<text font-size="8.1" text-anchor="end" fill="#2a2a2a" transform="translate(218.20 288.85)">0.5</text>
<line x1="221.00" y1="319.60" x2="225.50" y2="319.60" stroke="#8c8c8c" stroke-width="1.1"/>
<text font-size="8.1" text-anchor="end" fill="#2a2a2a" transform="translate(218.20 322.50)">0</text>
<line x1="226.00" y1="252.30" x2="284.00" y2="252.30" stroke="#cdcdcd" stroke-width="1" stroke-dasharray="4.2,2.2"/>
<line x1="221.00" y1="319.60" x2="284.00" y2="319.60" stroke="#9c9c9c" stroke-width="1.3"/>
<line x1="236.60" y1="319.60" x2="236.60" y2="324.00" stroke="#6a6a6a" stroke-width="1"/>
<line x1="254.30" y1="319.60" x2="254.30" y2="324.00" stroke="#6a6a6a" stroke-width="1"/>
<line x1="271.50" y1="319.60" x2="271.50" y2="324.00" stroke="#6a6a6a" stroke-width="1"/>
<circle cx="233.60" cy="252.30" r="2.05" fill="#a9a9a9"/>
<circle cx="235.20" cy="252.30" r="2.05" fill="#a9a9a9"/>
<circle cx="236.80" cy="252.30" r="2.05" fill="#a9a9a9"/>
<circle cx="238.40" cy="252.30" r="2.05" fill="#a9a9a9"/>
<circle cx="240.00" cy="252.30" r="2.05" fill="#a9a9a9"/>
<line x1="254.20" y1="242.90" x2="254.20" y2="272.70" stroke="#555" stroke-width="1"/>
<line x1="251.40" y1="242.90" x2="257.00" y2="242.90" stroke="#555" stroke-width="1"/>
<line x1="251.40" y1="272.70" x2="257.00" y2="272.70" stroke="#555" stroke-width="1"/>
<line x1="248.60" y1="258.30" x2="259.80" y2="258.30" stroke="#555" stroke-width="1"/>
<circle cx="250.10" cy="242.90" r="2.05" fill="#f4878b"/>
<circle cx="258.10" cy="246.00" r="2.05" fill="#f4878b"/>
<circle cx="254.20" cy="253.90" r="2.05" fill="#f4878b"/>
<circle cx="254.20" cy="269.40" r="2.05" fill="#f4878b"/>
<circle cx="254.20" cy="277.60" r="2.05" fill="#f4878b"/>
<line x1="271.70" y1="277.60" x2="271.70" y2="307.30" stroke="#555" stroke-width="1"/>
<line x1="268.90" y1="277.60" x2="274.50" y2="277.60" stroke="#555" stroke-width="1"/>
<line x1="268.90" y1="307.30" x2="274.50" y2="307.30" stroke="#555" stroke-width="1"/>
<line x1="265.50" y1="292.60" x2="277.90" y2="292.60" stroke="#555" stroke-width="1"/>
<circle cx="271.70" cy="277.60" r="2.05" fill="#f9a33f"/>
<circle cx="268.00" cy="284.10" r="2.05" fill="#f9a33f"/>
<circle cx="275.80" cy="283.30" r="2.05" fill="#f9a33f"/>
<circle cx="275.80" cy="307.30" r="2.05" fill="#f9a33f"/>
<circle cx="268.00" cy="310.30" r="2.05" fill="#f9a33f"/>
<line x1="230.80" y1="227.90" x2="277.50" y2="227.90" stroke="#c9c9c9" stroke-width="1.1"/>
<text font-size="8.3" text-anchor="middle" fill="#7c7c7c" transform="translate(254.50 226.80)">0.007</text>
<line x1="230.80" y1="238.10" x2="260.00" y2="238.10" stroke="#c9c9c9" stroke-width="1.1"/>
<text font-size="8.3" text-anchor="middle" fill="#7c7c7c" transform="translate(245.40 236.40)">0.631</text>
<text font-size="8.6" transform="translate(226.70 212.80) scale(0.9708 1)">PDHc-E2 Lp</text>
<text font-size="8.8" text-anchor="middle" letter-spacing="0.339" transform="translate(189.80 269.00) rotate(-90) translate(0.17 0)">Lipoyl/total</text>
<text font-size="8.6" text-anchor="middle" letter-spacing="0.261" transform="translate(197.60 269.40) rotate(-90) translate(0.13 0)">(relative to vehicle)</text>
<text font-size="8.4" text-anchor="end" transform="translate(239.50 331.30) rotate(-45)">Vehicle</text>
<text font-size="8.4" text-anchor="end" transform="translate(257.20 331.30) rotate(-45)">ML226</text>
<text font-size="8.4" text-anchor="end" transform="translate(274.40 331.30) rotate(-45)">DEG</text>
<line x1="298.40" y1="218.20" x2="298.40" y2="319.80" stroke="#6a6a6a" stroke-width="1.1"/>
<line x1="293.90" y1="218.65" x2="298.40" y2="218.65" stroke="#6a6a6a" stroke-width="1.1"/>
<line x1="293.90" y1="252.30" x2="298.40" y2="252.30" stroke="#6a6a6a" stroke-width="1.1"/>
<line x1="293.90" y1="285.95" x2="298.40" y2="285.95" stroke="#6a6a6a" stroke-width="1.1"/>
<line x1="284.00" y1="252.30" x2="356.00" y2="252.30" stroke="#cdcdcd" stroke-width="1" stroke-dasharray="4.2,2.2"/>
<line x1="293.30" y1="319.80" x2="357.70" y2="319.80" stroke="#9c9c9c" stroke-width="1.3"/>
<line x1="310.30" y1="319.80" x2="310.30" y2="324.20" stroke="#6a6a6a" stroke-width="1"/>
<line x1="327.60" y1="319.80" x2="327.60" y2="324.20" stroke="#6a6a6a" stroke-width="1"/>
<line x1="345.60" y1="319.80" x2="345.60" y2="324.20" stroke="#6a6a6a" stroke-width="1"/>
<circle cx="306.30" cy="252.30" r="2.05" fill="#a9a9a9"/>
<circle cx="308.10" cy="252.30" r="2.05" fill="#a9a9a9"/>
<circle cx="309.90" cy="252.30" r="2.05" fill="#a9a9a9"/>
<circle cx="311.70" cy="252.30" r="2.05" fill="#a9a9a9"/>
<circle cx="313.50" cy="252.30" r="2.05" fill="#a9a9a9"/>
<line x1="327.60" y1="269.90" x2="327.60" y2="299.40" stroke="#b0b0b0" stroke-width="1"/>
<line x1="324.80" y1="269.90" x2="330.40" y2="269.90" stroke="#b0b0b0" stroke-width="1"/>
<line x1="324.80" y1="299.40" x2="330.40" y2="299.40" stroke="#b0b0b0" stroke-width="1"/>
<line x1="321.80" y1="284.60" x2="333.40" y2="284.60" stroke="#b0b0b0" stroke-width="1"/>
<circle cx="324.00" cy="267.30" r="2.05" fill="#f4878b"/>
<circle cx="331.60" cy="270.90" r="2.05" fill="#f4878b"/>
<circle cx="327.60" cy="288.80" r="2.05" fill="#f4878b"/>
<circle cx="327.60" cy="295.80" r="2.05" fill="#f4878b"/>
<circle cx="327.60" cy="300.60" r="2.05" fill="#f4878b"/>
<line x1="345.60" y1="273.50" x2="345.60" y2="314.40" stroke="#555" stroke-width="1"/>
<line x1="342.80" y1="273.50" x2="348.40" y2="273.50" stroke="#555" stroke-width="1"/>
<line x1="342.80" y1="314.40" x2="348.40" y2="314.40" stroke="#555" stroke-width="1"/>
<line x1="339.80" y1="294.40" x2="351.40" y2="294.40" stroke="#555" stroke-width="1"/>
<circle cx="345.60" cy="262.70" r="2.05" fill="#f9a33f"/>
<circle cx="345.60" cy="289.90" r="2.05" fill="#f9a33f"/>
<circle cx="345.60" cy="295.40" r="2.05" fill="#f9a33f"/>
<circle cx="345.60" cy="302.90" r="2.05" fill="#f9a33f"/>
<circle cx="345.60" cy="319.00" r="2.05" fill="#f9a33f"/>
<line x1="304.00" y1="228.00" x2="351.00" y2="228.00" stroke="#c9c9c9" stroke-width="1.1"/>
<text font-size="8.3" text-anchor="middle" fill="#7c7c7c" transform="translate(327.60 226.90)">0.018</text>
<line x1="304.00" y1="238.10" x2="333.60" y2="238.10" stroke="#c9c9c9" stroke-width="1.1"/>
<text font-size="8.3" text-anchor="middle" fill="#7c7c7c" transform="translate(318.80 236.50)">0.014</text>
<text font-size="8.6" transform="translate(301.00 212.70) scale(0.9903 1)">OGDHc-E2 Lp</text>
<text font-size="8.4" text-anchor="end" transform="translate(313.20 331.50) rotate(-45)">Vehicle</text>
<text font-size="8.4" text-anchor="end" transform="translate(330.50 331.50) rotate(-45)">ML226</text>
<text font-size="8.4" text-anchor="end" transform="translate(348.50 331.50) rotate(-45)">DEG</text>
<line x1="591.30" y1="217.80" x2="591.30" y2="320.00" stroke="#6a6a6a" stroke-width="1.1"/>
<line x1="586.80" y1="218.30" x2="591.30" y2="218.30" stroke="#6a6a6a" stroke-width="1.1"/>
<text font-size="8.1" text-anchor="end" fill="#2a2a2a" transform="translate(584.00 221.20)">1.5</text>
<line x1="586.80" y1="252.20" x2="591.30" y2="252.20" stroke="#6a6a6a" stroke-width="1.1"/>
<text font-size="8.1" text-anchor="end" fill="#2a2a2a" transform="translate(584.00 255.10)">1.0</text>
<line x1="586.80" y1="286.10" x2="591.30" y2="286.10" stroke="#6a6a6a" stroke-width="1.1"/>
<text font-size="8.1" text-anchor="end" fill="#2a2a2a" transform="translate(584.00 289.00)">0.5</text>
<line x1="586.80" y1="320.00" x2="591.30" y2="320.00" stroke="#6a6a6a" stroke-width="1.1"/>
<text font-size="8.1" text-anchor="end" fill="#2a2a2a" transform="translate(584.00 322.90)">0</text>
<line x1="592.00" y1="252.20" x2="649.00" y2="252.20" stroke="#cdcdcd" stroke-width="1" stroke-dasharray="4.2,2.2"/>
<line x1="587.70" y1="320.00" x2="649.90" y2="320.00" stroke="#b0b0b0" stroke-width="1.3"/>
<line x1="602.60" y1="320.00" x2="602.60" y2="324.40" stroke="#6a6a6a" stroke-width="1"/>
<line x1="620.60" y1="320.00" x2="620.60" y2="324.40" stroke="#6a6a6a" stroke-width="1"/>
<line x1="638.50" y1="320.00" x2="638.50" y2="324.40" stroke="#6a6a6a" stroke-width="1"/>
<circle cx="600.40" cy="317.50" r="2.05" fill="#b0b0b0"/>
<circle cx="603.60" cy="316.90" r="2.05" fill="#b0b0b0"/>
<circle cx="606.80" cy="316.60" r="2.05" fill="#b0b0b0"/>
<line x1="620.60" y1="276.80" x2="620.60" y2="293.40" stroke="#555" stroke-width="1"/>
<line x1="618.10" y1="276.80" x2="623.10" y2="276.80" stroke="#555" stroke-width="1"/>
<line x1="618.10" y1="293.40" x2="623.10" y2="293.40" stroke="#555" stroke-width="1"/>
<line x1="614.90" y1="285.50" x2="626.30" y2="285.50" stroke="#555" stroke-width="1"/>
<circle cx="620.60" cy="276.80" r="2.05" fill="#f4878b"/>
<circle cx="620.60" cy="286.10" r="2.05" fill="#f4878b"/>
<circle cx="620.60" cy="293.40" r="2.05" fill="#f4878b"/>
<circle cx="634.30" cy="252.20" r="2.05" fill="#f9a33f"/>
<circle cx="638.40" cy="252.20" r="2.05" fill="#f9a33f"/>
<circle cx="642.40" cy="252.20" r="2.05" fill="#f9a33f"/>
<line x1="597.50" y1="227.80" x2="643.70" y2="227.80" stroke="#b5b5b5" stroke-width="1.1"/>
<text font-size="8.3" text-anchor="middle" fill="#7c7c7c" transform="translate(620.60 226.90)">&lt;0.001</text>
<line x1="597.50" y1="238.20" x2="626.40" y2="238.20" stroke="#8f8f8f" stroke-width="1.1"/>
<text font-size="8.3" text-anchor="middle" fill="#7c7c7c" transform="translate(612.70 237.10)">0.042</text>
<text font-size="8.6" transform="translate(598.70 212.10) scale(0.9371 1)">PDHc-E2 K</text>
<text font-size="6.2" transform="translate(640.00 214.80)">glu</text>
<text font-size="8.6" text-anchor="middle" letter-spacing="0.329" transform="translate(553.70 269.30) rotate(-90) translate(0.16 0)">Glutaryl-Lys/total</text>
<text font-size="8.6" text-anchor="middle" letter-spacing="0.085" transform="translate(564.30 269.00) rotate(-90) translate(0.04 0)">(relative to DEG)</text>
<text font-size="8.4" text-anchor="end" transform="translate(605.50 331.70) rotate(-45)">Vehicle</text>
<text font-size="8.4" text-anchor="end" transform="translate(623.50 331.70) rotate(-45)">ML226</text>
<text font-size="8.4" text-anchor="end" transform="translate(641.40 331.70) rotate(-45)">DEG</text>
<text font-size="6.2" transform="translate(72.80 397.80)">K</text>
<text font-size="4.4" transform="translate(77.20 399.60)">110</text>
<polyline points="83.60,394.20 91.80,391.00 101.20,395.70 110.60,391.00 120.00,395.70 129.30,391.00 138.50,395.70 147.70,390.20 156.60,395.70 156.60,403.60" fill="none" stroke="#2a2a2a" stroke-width="1" stroke-linejoin="miter"/>
<line x1="91.20" y1="390.80" x2="91.20" y2="383.40" stroke="#2a2a2a" stroke-width="0.9"/>
<line x1="92.50" y1="390.80" x2="92.50" y2="383.40" stroke="#2a2a2a" stroke-width="0.9"/>
<text font-size="6.3" text-anchor="middle" transform="translate(91.90 382.20)">O</text>
<line x1="138.50" y1="395.70" x2="138.50" y2="403.60" stroke="#2a2a2a" stroke-width="1"/>
<text font-size="6.0" text-anchor="middle" transform="translate(138.50 409.10)">S</text>
<text font-size="6.0" text-anchor="middle" transform="translate(156.60 409.10)">S</text>
<polyline points="135.60,408.00 128.60,411.40 119.10,407.30 111.80,414.60" fill="none" stroke="#3d7bf0" stroke-width="1" stroke-linejoin="miter"/>
<polyline points="111.80,414.60 116.20,421.80" fill="none" stroke="#3d7bf0" stroke-width="1" stroke-linejoin="miter"/>
<polyline points="120.20,424.20 127.40,423.10 128.60,411.40" fill="none" stroke="#3d7bf0" stroke-width="1" stroke-linejoin="miter"/>
<line x1="111.80" y1="414.60" x2="104.60" y2="414.40" stroke="#3d7bf0" stroke-width="0.9"/>
<line x1="111.40" y1="415.90" x2="104.60" y2="415.70" stroke="#3d7bf0" stroke-width="0.9"/>
<text font-size="6.3" text-anchor="middle" fill="#3d7bf0" transform="translate(101.60 416.50)">O</text>
<line x1="127.40" y1="423.10" x2="132.80" y2="427.60" stroke="#3d7bf0" stroke-width="0.9"/>
<line x1="126.50" y1="424.20" x2="131.90" y2="428.70" stroke="#3d7bf0" stroke-width="0.9"/>
<text font-size="6.3" text-anchor="middle" fill="#3d7bf0" transform="translate(135.40 431.40)">O</text>
<text font-size="6.3" text-anchor="middle" fill="#3d7bf0" transform="translate(117.90 426.20)">N</text>
<polyline points="117.20,426.80 114.00,433.60 102.30,435.40" fill="none" stroke="#3d7bf0" stroke-width="1" stroke-linejoin="miter"/>
<polyline points="159.30,408.00 166.50,411.80 175.80,407.70 183.10,415.30 179.00,422.40" fill="none" stroke="#3d7bf0" stroke-width="1" stroke-linejoin="miter"/>
<polyline points="175.00,424.60 167.30,422.30 166.50,411.80" fill="none" stroke="#3d7bf0" stroke-width="1" stroke-linejoin="miter"/>
<line x1="183.10" y1="415.30" x2="190.30" y2="415.00" stroke="#3d7bf0" stroke-width="0.9"/>
<line x1="183.50" y1="416.60" x2="190.30" y2="416.30" stroke="#3d7bf0" stroke-width="0.9"/>
<text font-size="6.3" text-anchor="middle" fill="#3d7bf0" transform="translate(193.20 417.00)">O</text>
<line x1="167.30" y1="422.30" x2="161.90" y2="426.80" stroke="#3d7bf0" stroke-width="0.9"/>
<line x1="168.20" y1="423.40" x2="162.80" y2="427.90" stroke="#3d7bf0" stroke-width="0.9"/>
<text font-size="6.3" text-anchor="middle" fill="#3d7bf0" transform="translate(159.30 431.40)">O</text>
<text font-size="6.3" text-anchor="middle" fill="#3d7bf0" transform="translate(177.30 427.00)">N</text>
<polyline points="178.20,427.80 181.30,434.60 192.40,435.50" fill="none" stroke="#3d7bf0" stroke-width="1" stroke-linejoin="miter"/>
<text font-size="6.2" transform="translate(220.90 397.80)">K</text>
<text font-size="4.4" transform="translate(225.30 399.60)">110</text>
<polyline points="231.70,394.20 239.90,391.00 249.30,395.70 258.70,391.00 268.10,395.70 277.40,391.00 286.60,395.70 295.80,390.20 304.70,395.70 304.70,403.60" fill="none" stroke="#2a2a2a" stroke-width="1" stroke-linejoin="miter"/>
<line x1="239.30" y1="390.80" x2="239.30" y2="383.40" stroke="#2a2a2a" stroke-width="0.9"/>
<line x1="240.60" y1="390.80" x2="240.60" y2="383.40" stroke="#2a2a2a" stroke-width="0.9"/>
<text font-size="6.3" text-anchor="middle" transform="translate(240.00 382.20)">O</text>
<line x1="286.60" y1="395.70" x2="286.60" y2="403.60" stroke="#2a2a2a" stroke-width="1"/>
<text font-size="6.0" text-anchor="middle" transform="translate(286.60 409.10)">S</text>
<text font-size="6.0" text-anchor="middle" transform="translate(304.70 409.10)">S</text>
<polyline points="283.70,408.00 276.70,411.40 267.20,407.30 259.90,414.60" fill="none" stroke="#3d7bf0" stroke-width="1" stroke-linejoin="miter"/>
<polyline points="259.90,414.60 264.30,421.80" fill="none" stroke="#3d7bf0" stroke-width="1" stroke-linejoin="miter"/>
<polyline points="268.30,424.20 275.50,423.10 276.70,411.40" fill="none" stroke="#3d7bf0" stroke-width="1" stroke-linejoin="miter"/>
<line x1="259.90" y1="414.60" x2="252.70" y2="414.40" stroke="#3d7bf0" stroke-width="0.9"/>
<line x1="259.50" y1="415.90" x2="252.70" y2="415.70" stroke="#3d7bf0" stroke-width="0.9"/>
<text font-size="6.3" text-anchor="middle" fill="#3d7bf0" transform="translate(249.70 416.50)">O</text>
<line x1="275.50" y1="423.10" x2="280.90" y2="427.60" stroke="#3d7bf0" stroke-width="0.9"/>
<line x1="274.60" y1="424.20" x2="280.00" y2="428.70" stroke="#3d7bf0" stroke-width="0.9"/>
<text font-size="6.3" text-anchor="middle" fill="#3d7bf0" transform="translate(283.50 431.40)">O</text>
<text font-size="6.3" text-anchor="middle" fill="#3d7bf0" transform="translate(266.00 426.20)">N</text>
<polyline points="265.30,426.80 262.10,433.60 250.40,435.40" fill="none" stroke="#3d7bf0" stroke-width="1" stroke-linejoin="miter"/>
<polyline points="307.80,408.80 314.10,412.00 314.10,422.40 323.20,427.90 323.20,438.30 332.50,443.60 332.50,450.20" fill="none" stroke="#e8923a" stroke-width="1" stroke-linejoin="miter"/>
<line x1="314.50" y1="412.70" x2="321.50" y2="408.50" stroke="#e8923a" stroke-width="0.9"/>
<line x1="313.80" y1="411.30" x2="320.80" y2="407.10" stroke="#e8923a" stroke-width="0.9"/>
<text font-size="6.3" text-anchor="middle" fill="#e8923a" transform="translate(324.40 409.40)">O</text>
<line x1="332.90" y1="444.30" x2="340.00" y2="440.00" stroke="#e8923a" stroke-width="0.9"/>
<line x1="332.20" y1="442.90" x2="339.30" y2="438.60" stroke="#e8923a" stroke-width="0.9"/>
<text font-size="6.3" text-anchor="middle" fill="#e8923a" transform="translate(342.60 441.00)">O</text>
<text font-size="6.1" text-anchor="middle" fill="#e8923a" transform="translate(333.20 456.60)">OH</text>
<text font-size="6.2" transform="translate(370.90 397.80)">K</text>
<text font-size="4.4" transform="translate(375.30 399.60)">110</text>
<polyline points="381.70,394.20 389.90,391.00 399.30,395.70 408.70,391.00 418.10,395.70 427.40,391.00 436.60,395.70 445.80,390.20 454.70,395.70 454.70,403.60" fill="none" stroke="#2a2a2a" stroke-width="1" stroke-linejoin="miter"/>
<line x1="389.30" y1="390.80" x2="389.30" y2="383.40" stroke="#2a2a2a" stroke-width="0.9"/>
<line x1="390.60" y1="390.80" x2="390.60" y2="383.40" stroke="#2a2a2a" stroke-width="0.9"/>
<text font-size="6.3" text-anchor="middle" transform="translate(390.00 382.20)">O</text>
<line x1="436.60" y1="395.70" x2="436.60" y2="403.60" stroke="#2a2a2a" stroke-width="1"/>
<text font-size="6.0" text-anchor="middle" transform="translate(436.60 409.10)">S</text>
<text font-size="6.0" text-anchor="middle" transform="translate(454.70 409.10)">S</text>
<polyline points="433.70,408.00 426.70,411.40 417.20,407.30 409.90,414.60" fill="none" stroke="#3d7bf0" stroke-width="1" stroke-linejoin="miter"/>
<polyline points="409.90,414.60 414.30,421.80" fill="none" stroke="#3d7bf0" stroke-width="1" stroke-linejoin="miter"/>
<polyline points="418.30,424.20 425.50,423.10 426.70,411.40" fill="none" stroke="#3d7bf0" stroke-width="1" stroke-linejoin="miter"/>
<line x1="409.90" y1="414.60" x2="402.70" y2="414.40" stroke="#3d7bf0" stroke-width="0.9"/>
<line x1="409.50" y1="415.90" x2="402.70" y2="415.70" stroke="#3d7bf0" stroke-width="0.9"/>
<text font-size="6.3" text-anchor="middle" fill="#3d7bf0" transform="translate(399.70 416.50)">O</text>
<line x1="425.50" y1="423.10" x2="430.90" y2="427.60" stroke="#3d7bf0" stroke-width="0.9"/>
<line x1="424.60" y1="424.20" x2="430.00" y2="428.70" stroke="#3d7bf0" stroke-width="0.9"/>
<text font-size="6.3" text-anchor="middle" fill="#3d7bf0" transform="translate(433.50 431.40)">O</text>
<text font-size="6.3" text-anchor="middle" fill="#3d7bf0" transform="translate(416.00 426.20)">N</text>
<polyline points="415.30,426.80 412.10,433.60 400.40,435.40" fill="none" stroke="#3d7bf0" stroke-width="1" stroke-linejoin="miter"/>
<polyline points="457.80,408.80 464.10,412.00 464.10,422.40 473.20,427.90 473.20,438.30 482.50,443.60 482.50,450.20" fill="none" stroke="#e8923a" stroke-width="1" stroke-linejoin="miter"/>
<line x1="464.50" y1="412.70" x2="471.50" y2="408.50" stroke="#e8923a" stroke-width="0.9"/>
<line x1="463.80" y1="411.30" x2="470.80" y2="407.10" stroke="#e8923a" stroke-width="0.9"/>
<text font-size="6.3" text-anchor="middle" fill="#e8923a" transform="translate(474.40 409.40)">O</text>
<line x1="482.90" y1="444.30" x2="490.00" y2="440.00" stroke="#e8923a" stroke-width="0.9"/>
<line x1="482.20" y1="442.90" x2="489.30" y2="438.60" stroke="#e8923a" stroke-width="0.9"/>
<text font-size="6.3" text-anchor="middle" fill="#e8923a" transform="translate(492.60 441.00)">O</text>
<text font-size="6.1" text-anchor="middle" fill="#e8923a" transform="translate(483.20 456.60)">OH</text>
<text font-size="8.6" transform="translate(93.90 469.60) scale(0.9835 1)">OGDHc-E2 K110 Lp</text>
<line x1="109.60" y1="477.60" x2="109.60" y2="579.50" stroke="#6a6a6a" stroke-width="1.1"/>
<line x1="105.10" y1="478.40" x2="109.60" y2="478.40" stroke="#6a6a6a" stroke-width="1.1"/>
<text font-size="8.1" text-anchor="end" fill="#2a2a2a" transform="translate(102.30 481.30)">1.5</text>
<line x1="105.10" y1="512.10" x2="109.60" y2="512.10" stroke="#6a6a6a" stroke-width="1.1"/>
<text font-size="8.1" text-anchor="end" fill="#2a2a2a" transform="translate(102.30 515.00)">1.0</text>
<line x1="105.10" y1="545.80" x2="109.60" y2="545.80" stroke="#6a6a6a" stroke-width="1.1"/>
<text font-size="8.1" text-anchor="end" fill="#2a2a2a" transform="translate(102.30 548.70)">0.5</text>
<line x1="105.10" y1="579.50" x2="109.60" y2="579.50" stroke="#6a6a6a" stroke-width="1.1"/>
<text font-size="8.1" text-anchor="end" fill="#2a2a2a" transform="translate(102.30 582.40)">0</text>
<line x1="110.00" y1="512.10" x2="153.40" y2="512.10" stroke="#cdcdcd" stroke-width="1" stroke-dasharray="4.2,2.2"/>
<line x1="105.90" y1="579.50" x2="152.50" y2="579.50" stroke="#8a8a8a" stroke-width="1.3"/>
<line x1="122.40" y1="579.50" x2="122.40" y2="583.90" stroke="#6a6a6a" stroke-width="1"/>
<line x1="140.80" y1="579.50" x2="140.80" y2="583.90" stroke="#6a6a6a" stroke-width="1"/>
<circle cx="118.30" cy="512.10" r="2.05" fill="#a9a9a9"/>
<circle cx="120.20" cy="512.10" r="2.05" fill="#a9a9a9"/>
<circle cx="122.10" cy="512.10" r="2.05" fill="#a9a9a9"/>
<circle cx="124.00" cy="512.10" r="2.05" fill="#a9a9a9"/>
<circle cx="125.90" cy="512.10" r="2.05" fill="#a9a9a9"/>
<line x1="140.80" y1="543.30" x2="140.80" y2="568.90" stroke="#555" stroke-width="1"/>
<line x1="138.00" y1="543.30" x2="143.60" y2="543.30" stroke="#555" stroke-width="1"/>
<line x1="138.00" y1="568.90" x2="143.60" y2="568.90" stroke="#555" stroke-width="1"/>
<line x1="134.60" y1="556.40" x2="147.00" y2="556.40" stroke="#555" stroke-width="1"/>
<circle cx="140.80" cy="537.70" r="2.05" fill="#f4878b"/>
<circle cx="140.80" cy="557.30" r="2.05" fill="#f4878b"/>
<circle cx="136.40" cy="565.40" r="2.05" fill="#f4878b"/>
<circle cx="145.00" cy="563.90" r="2.05" fill="#f4878b"/>
<line x1="116.20" y1="496.30" x2="146.90" y2="496.30" stroke="#c9c9c9" stroke-width="1.1"/>
<text font-size="8.3" text-anchor="middle" fill="#7c7c7c" transform="translate(131.50 493.60)">&lt;0.001</text>
<text font-size="8.6" text-anchor="middle" letter-spacing="0.220" transform="translate(72.70 528.80) rotate(-90) translate(0.11 0)">2NEM dihydrolipoate</text>
<text font-size="8.6" text-anchor="middle" letter-spacing="0.231" transform="translate(82.40 529.00) rotate(-90) translate(0.12 0)">(relative to vehicle)</text>
<text font-size="8.4" text-anchor="end" transform="translate(125.30 591.20) rotate(-45)">Vehicle</text>
<text font-size="8.4" text-anchor="end" transform="translate(143.70 591.20) rotate(-45)">ML226</text>
<text font-size="8.6" transform="translate(241.40 469.60) scale(0.9835 1)">OGDHc-E2 K110 Lp</text>
<text font-size="6.2" transform="translate(318.00 472.30)">glu</text>
<line x1="261.60" y1="477.60" x2="261.60" y2="579.30" stroke="#6a6a6a" stroke-width="1.1"/>
<line x1="257.10" y1="478.20" x2="261.60" y2="478.20" stroke="#6a6a6a" stroke-width="1.1"/>
<text font-size="8.1" text-anchor="end" fill="#2a2a2a" transform="translate(254.30 481.10)">2.5</text>
<line x1="257.10" y1="498.42" x2="261.60" y2="498.42" stroke="#6a6a6a" stroke-width="1.1"/>
<text font-size="8.1" text-anchor="end" fill="#2a2a2a" transform="translate(254.30 501.32)">2.0</text>
<line x1="257.10" y1="518.64" x2="261.60" y2="518.64" stroke="#6a6a6a" stroke-width="1.1"/>
<text font-size="8.1" text-anchor="end" fill="#2a2a2a" transform="translate(254.30 521.54)">1.5</text>
<line x1="257.10" y1="538.86" x2="261.60" y2="538.86" stroke="#6a6a6a" stroke-width="1.1"/>
<text font-size="8.1" text-anchor="end" fill="#2a2a2a" transform="translate(254.30 541.76)">1.0</text>
<line x1="257.10" y1="559.08" x2="261.60" y2="559.08" stroke="#6a6a6a" stroke-width="1.1"/>
<text font-size="8.1" text-anchor="end" fill="#2a2a2a" transform="translate(254.30 561.98)">0.5</text>
<line x1="257.10" y1="579.30" x2="261.60" y2="579.30" stroke="#6a6a6a" stroke-width="1.1"/>
<text font-size="8.1" text-anchor="end" fill="#2a2a2a" transform="translate(254.30 582.20)">0</text>
<line x1="262.00" y1="538.86" x2="304.00" y2="538.86" stroke="#cdcdcd" stroke-width="1" stroke-dasharray="4.2,2.2"/>
<line x1="258.40" y1="579.30" x2="304.70" y2="579.30" stroke="#8a8a8a" stroke-width="1.3"/>
<line x1="274.40" y1="579.30" x2="274.40" y2="583.70" stroke="#6a6a6a" stroke-width="1"/>
<line x1="292.40" y1="579.30" x2="292.40" y2="583.70" stroke="#6a6a6a" stroke-width="1"/>
<circle cx="271.40" cy="538.86" r="2.05" fill="#a9a9a9"/>
<circle cx="272.90" cy="538.86" r="2.05" fill="#a9a9a9"/>
<circle cx="274.40" cy="538.86" r="2.05" fill="#a9a9a9"/>
<circle cx="275.90" cy="538.86" r="2.05" fill="#a9a9a9"/>
<circle cx="277.40" cy="538.86" r="2.05" fill="#a9a9a9"/>
<line x1="292.40" y1="497.30" x2="292.40" y2="532.00" stroke="#555" stroke-width="1"/>
<line x1="289.60" y1="497.30" x2="295.20" y2="497.30" stroke="#555" stroke-width="1"/>
<line x1="289.60" y1="532.00" x2="295.20" y2="532.00" stroke="#555" stroke-width="1"/>
<line x1="286.30" y1="514.60" x2="298.50" y2="514.60" stroke="#999" stroke-width="1"/>
<circle cx="292.40" cy="495.10" r="2.05" fill="#f4878b"/>
<circle cx="292.40" cy="505.10" r="2.05" fill="#f4878b"/>
<circle cx="292.40" cy="527.00" r="2.05" fill="#f4878b"/>
<circle cx="292.40" cy="532.20" r="2.05" fill="#f4878b"/>
<line x1="268.10" y1="489.60" x2="298.80" y2="489.60" stroke="#c9c9c9" stroke-width="1.1"/>
<text font-size="8.3" text-anchor="middle" fill="#7c7c7c" transform="translate(283.00 486.80)">0.033</text>
<text font-size="8.6" text-anchor="middle" letter-spacing="0.160" transform="translate(224.70 528.00) rotate(-90) translate(0.08 0)">NEM glutaryl lipoate</text>
<text font-size="8.6" text-anchor="middle" letter-spacing="0.191" transform="translate(234.30 528.40) rotate(-90) translate(0.10 0)">(relative to vehicle)</text>
<text font-size="8.4" text-anchor="end" transform="translate(277.30 591.00) rotate(-45)">Vehicle</text>
<text font-size="8.4" text-anchor="end" transform="translate(295.30 591.00) rotate(-45)">ML226</text>
<text font-size="8.6" transform="translate(384.10 469.60) scale(0.9835 1)">OGDHc-E2 K110 Lp</text>
<text font-size="6.2" transform="translate(460.60 472.30)">glu</text>
<line x1="404.60" y1="477.60" x2="404.60" y2="579.30" stroke="#6a6a6a" stroke-width="1.1"/>
<line x1="400.10" y1="579.30" x2="404.60" y2="579.30" stroke="#6a6a6a" stroke-width="1.1"/>
<text font-size="8.1" text-anchor="end" fill="#2a2a2a" transform="translate(397.30 582.20)">0</text>
<line x1="400.10" y1="559.08" x2="404.60" y2="559.08" stroke="#6a6a6a" stroke-width="1.1"/>
<text font-size="8.1" text-anchor="end" fill="#2a2a2a" transform="translate(397.30 561.98)">1</text>
<line x1="400.10" y1="538.86" x2="404.60" y2="538.86" stroke="#6a6a6a" stroke-width="1.1"/>
<text font-size="8.1" text-anchor="end" fill="#2a2a2a" transform="translate(397.30 541.76)">2</text>
<line x1="400.10" y1="518.64" x2="404.60" y2="518.64" stroke="#6a6a6a" stroke-width="1.1"/>
<text font-size="8.1" text-anchor="end" fill="#2a2a2a" transform="translate(397.30 521.54)">3</text>
<line x1="400.10" y1="498.42" x2="404.60" y2="498.42" stroke="#6a6a6a" stroke-width="1.1"/>
<text font-size="8.1" text-anchor="end" fill="#2a2a2a" transform="translate(397.30 501.32)">4</text>
<line x1="400.10" y1="478.20" x2="404.60" y2="478.20" stroke="#6a6a6a" stroke-width="1.1"/>
<text font-size="8.1" text-anchor="end" fill="#2a2a2a" transform="translate(397.30 481.10)">5</text>
<line x1="405.00" y1="559.08" x2="447.00" y2="559.08" stroke="#cdcdcd" stroke-width="1" stroke-dasharray="4.2,2.2"/>
<line x1="401.40" y1="579.30" x2="448.00" y2="579.30" stroke="#8a8a8a" stroke-width="1.3"/>
<line x1="416.40" y1="579.30" x2="416.40" y2="583.70" stroke="#6a6a6a" stroke-width="1"/>
<line x1="435.50" y1="579.30" x2="435.50" y2="583.70" stroke="#6a6a6a" stroke-width="1"/>
<circle cx="412.30" cy="559.08" r="2.05" fill="#a9a9a9"/>
<circle cx="416.60" cy="559.08" r="2.05" fill="#a9a9a9"/>
<circle cx="420.90" cy="559.08" r="2.05" fill="#a9a9a9"/>
<line x1="435.50" y1="487.40" x2="435.50" y2="543.30" stroke="#555" stroke-width="1"/>
<line x1="432.70" y1="487.40" x2="438.30" y2="487.40" stroke="#555" stroke-width="1"/>
<line x1="432.70" y1="543.30" x2="438.30" y2="543.30" stroke="#555" stroke-width="1"/>
<line x1="429.40" y1="520.70" x2="441.60" y2="520.70" stroke="#999" stroke-width="1"/>
<circle cx="435.50" cy="487.40" r="2.05" fill="#f4878b"/>
<circle cx="435.50" cy="531.30" r="2.05" fill="#f4878b"/>
<circle cx="435.50" cy="543.30" r="2.05" fill="#f4878b"/>
<line x1="410.80" y1="483.80" x2="441.00" y2="483.80" stroke="#c9c9c9" stroke-width="1.1"/>
<text font-size="8.3" text-anchor="middle" fill="#7c7c7c" transform="translate(426.00 481.40)">0.151</text>
<text font-size="8.6" text-anchor="middle" letter-spacing="0.118" transform="translate(372.40 528.40) rotate(-90) translate(0.06 0)">NEM glutaryl lipoate</text>
<text font-size="8.6" text-anchor="middle" letter-spacing="0.194" transform="translate(382.40 528.00) rotate(-90) translate(0.10 0)">(relative to β2M)</text>
<text font-size="8.6" transform="translate(370.80 596.40) scale(0.9544 1)">sgRNA</text>
<text font-size="8.4" text-anchor="end" transform="translate(420.30 591.00) rotate(-45)">β2M</text>
<text font-size="8.4" text-anchor="end" transform="translate(439.40 591.00) rotate(-45)">ABHD11</text>
<rect x="538.6" y="409.30" width="7.6" height="6.6" fill="#e3e3e3" stroke="#666" stroke-width="0.9"/>
<text font-size="7.8" transform="translate(549.70 414.90) scale(1.0088 1)">Unmodified</text>
<rect x="538.6" y="423.30" width="7.6" height="6.6" fill="#6b7fd7" stroke="#666" stroke-width="0.9"/>
<text font-size="7.8" transform="translate(549.70 428.90) scale(0.9847 1)">2NEM dihydrolipoate</text>
<rect x="538.6" y="437.30" width="7.6" height="6.6" fill="#f6bd71" stroke="#666" stroke-width="0.9"/>
<text font-size="7.8" transform="translate(549.70 442.90) scale(0.9886 1)">NEM glutaryl lipoate</text>
<line x1="565.20" y1="455.00" x2="565.20" y2="555.50" stroke="#6a6a6a" stroke-width="1.1"/>
<line x1="560.70" y1="459.10" x2="565.20" y2="459.10" stroke="#6a6a6a" stroke-width="1.1"/>
<text font-size="8.1" text-anchor="end" fill="#2a2a2a" transform="translate(557.90 462.00)">100</text>
<line x1="560.70" y1="507.30" x2="565.20" y2="507.30" stroke="#6a6a6a" stroke-width="1.1"/>
<text font-size="8.1" text-anchor="end" fill="#2a2a2a" transform="translate(557.90 510.20)">50</text>
<line x1="560.70" y1="555.50" x2="565.20" y2="555.50" stroke="#6a6a6a" stroke-width="1.1"/>
<text font-size="8.1" text-anchor="end" fill="#2a2a2a" transform="translate(557.90 558.40)">0</text>
<line x1="562.40" y1="555.50" x2="632.50" y2="555.50" stroke="#8a8a8a" stroke-width="1.3"/>
<line x1="578.50" y1="555.50" x2="578.50" y2="559.90" stroke="#6a6a6a" stroke-width="1"/>
<line x1="599.00" y1="555.50" x2="599.00" y2="559.90" stroke="#6a6a6a" stroke-width="1"/>
<line x1="619.70" y1="555.50" x2="619.70" y2="559.90" stroke="#6a6a6a" stroke-width="1"/>
<rect x="572.50" y="459.10" width="12.80" height="10.12" fill="#f6bd71" stroke="#666" stroke-width="0.9"/>
<rect x="572.50" y="469.22" width="12.80" height="14.27" fill="#6b7fd7" stroke="#666" stroke-width="0.9"/>
<rect x="572.50" y="483.49" width="12.80" height="72.01" fill="#e5e5e5" stroke="#666" stroke-width="0.9"/>
<rect x="592.40" y="459.10" width="13.20" height="18.03" fill="#f6bd71" stroke="#666" stroke-width="0.9"/>
<rect x="592.40" y="477.13" width="13.20" height="5.21" fill="#6b7fd7" stroke="#666" stroke-width="0.9"/>
<rect x="592.40" y="482.33" width="13.20" height="73.17" fill="#e5e5e5" stroke="#666" stroke-width="0.9"/>
<rect x="613.20" y="459.10" width="12.40" height="4.82" fill="#f6bd71" stroke="#666" stroke-width="0.9"/>
<rect x="613.20" y="463.92" width="12.40" height="10.51" fill="#6b7fd7" stroke="#666" stroke-width="0.9"/>
<rect x="613.20" y="474.43" width="12.40" height="81.07" fill="#e5e5e5" stroke="#666" stroke-width="0.9"/>
<line x1="578.90" y1="456.88" x2="578.90" y2="461.32" stroke="#333" stroke-width="0.9"/>
<line x1="576.30" y1="456.88" x2="581.50" y2="456.88" stroke="#333" stroke-width="0.9"/>
<line x1="576.30" y1="461.32" x2="581.50" y2="461.32" stroke="#333" stroke-width="0.9"/>
<line x1="578.90" y1="468.07" x2="578.90" y2="470.38" stroke="#333" stroke-width="0.9"/>
<line x1="576.30" y1="468.07" x2="581.50" y2="468.07" stroke="#333" stroke-width="0.9"/>
<line x1="576.30" y1="470.38" x2="581.50" y2="470.38" stroke="#333" stroke-width="0.9"/>
<line x1="578.90" y1="481.37" x2="578.90" y2="485.61" stroke="#333" stroke-width="0.9"/>
<line x1="576.30" y1="481.37" x2="581.50" y2="481.37" stroke="#333" stroke-width="0.9"/>
<line x1="576.30" y1="485.61" x2="581.50" y2="485.61" stroke="#333" stroke-width="0.9"/>
<line x1="599.00" y1="457.36" x2="599.00" y2="460.84" stroke="#333" stroke-width="0.9"/>
<line x1="596.40" y1="457.36" x2="601.60" y2="457.36" stroke="#333" stroke-width="0.9"/>
<line x1="596.40" y1="460.84" x2="601.60" y2="460.84" stroke="#333" stroke-width="0.9"/>
<line x1="599.00" y1="476.07" x2="599.00" y2="478.19" stroke="#333" stroke-width="0.9"/>
<line x1="596.40" y1="476.07" x2="601.60" y2="476.07" stroke="#333" stroke-width="0.9"/>
<line x1="596.40" y1="478.19" x2="601.60" y2="478.19" stroke="#333" stroke-width="0.9"/>
<line x1="599.00" y1="480.79" x2="599.00" y2="483.87" stroke="#333" stroke-width="0.9"/>
<line x1="596.40" y1="480.79" x2="601.60" y2="480.79" stroke="#333" stroke-width="0.9"/>
<line x1="596.40" y1="483.87" x2="601.60" y2="483.87" stroke="#333" stroke-width="0.9"/>
<line x1="619.40" y1="457.46" x2="619.40" y2="460.74" stroke="#333" stroke-width="0.9"/>
<line x1="616.80" y1="457.46" x2="622.00" y2="457.46" stroke="#333" stroke-width="0.9"/>
<line x1="616.80" y1="460.74" x2="622.00" y2="460.74" stroke="#333" stroke-width="0.9"/>
<line x1="619.40" y1="462.76" x2="619.40" y2="465.08" stroke="#333" stroke-width="0.9"/>
<line x1="616.80" y1="462.76" x2="622.00" y2="462.76" stroke="#333" stroke-width="0.9"/>
<line x1="616.80" y1="465.08" x2="622.00" y2="465.08" stroke="#333" stroke-width="0.9"/>
<line x1="619.40" y1="471.05" x2="619.40" y2="477.80" stroke="#333" stroke-width="0.9"/>
<line x1="616.80" y1="471.05" x2="622.00" y2="471.05" stroke="#333" stroke-width="0.9"/>
<line x1="616.80" y1="477.80" x2="622.00" y2="477.80" stroke="#333" stroke-width="0.9"/>
<text font-size="8.6" text-anchor="middle" letter-spacing="-0.268" transform="translate(531.20 504.80) rotate(-90) translate(-0.13 0)">OGDHc-E2 K110</text>
<text font-size="8.6" text-anchor="middle" letter-spacing="0.147" transform="translate(541.10 505.00) rotate(-90) translate(0.07 0)">peptides (%)</text>
<text font-size="8.4" text-anchor="end" transform="translate(582.70 565.90) rotate(-45)">Vehicle</text>
<text font-size="8.4" text-anchor="end" transform="translate(603.20 565.90) rotate(-45)">ML226</text>
<text font-size="8.4" text-anchor="end" transform="translate(623.90 565.90) rotate(-45)">DEG</text>
</svg>
</body></html>
